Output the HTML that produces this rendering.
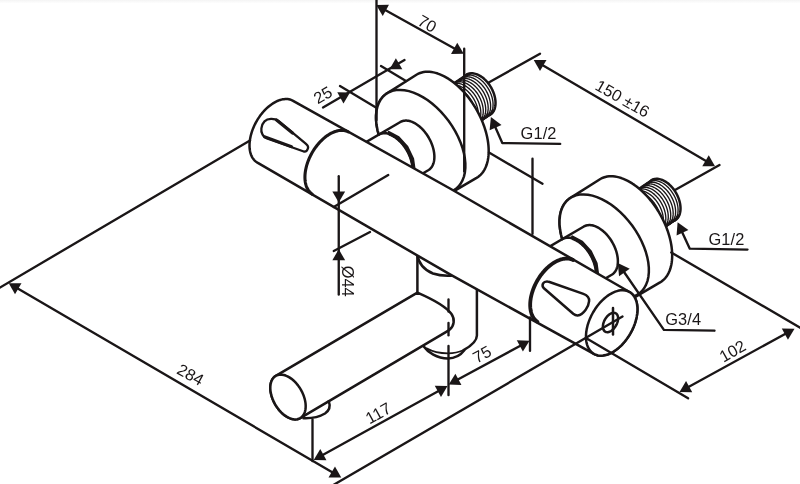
<!DOCTYPE html>
<html><head><meta charset="utf-8"><title>Dimensions</title>
<style>html,body{margin:0;padding:0;background:#fff;}svg{display:block;will-change:transform;}</style></head>
<body>
<svg width="800" height="484" viewBox="0 0 800 484" font-family="'Liberation Sans', sans-serif" fill="#1a1617">
<defs><linearGradient id="tg" x1="0" y1="0" x2="0" y2="1"><stop offset="0" stop-color="#f4f4f4"/><stop offset="1" stop-color="#ffffff"/></linearGradient></defs>
<rect x="0" y="0" width="800" height="3.5" fill="url(#tg)"/>
<path d="M466.55 74.62 L467.24 74.26 L467.95 73.96 L468.70 73.71 L469.47 73.52 L470.26 73.39 L471.08 73.32 L471.92 73.31 L472.77 73.36 L473.64 73.46 L474.52 73.62 L475.41 73.85 L476.31 74.13 L477.21 74.46 L478.12 74.85 L479.03 75.30 L479.93 75.80 L480.83 76.35 L481.72 76.95 L482.60 77.60 L483.48 78.30 L484.33 79.05 L485.17 79.83 L485.99 80.66 L486.79 81.53 L487.57 82.43 L488.31 83.37 L489.04 84.33 L489.73 85.33 L490.39 86.35 L491.02 87.40 L491.61 88.47 L492.16 89.55 L492.68 90.65 L493.16 91.76 L493.60 92.87 L493.99 94.00 L494.34 95.12 L494.65 96.25 L494.91 97.37 L495.12 98.48 L495.29 99.58 L495.42 100.67 L495.49 101.75 L495.52 102.80 L495.50 103.84 L495.43 104.84 L495.32 105.82 L495.16 106.78 L494.95 107.69 L494.70 108.57 L494.40 109.42 L494.06 110.22 L493.67 110.99 L493.24 111.70 L492.77 112.38 L492.26 113.00 L491.71 113.57 L491.13 114.09 L490.50 114.56 L489.85 114.98 L464.25 132.12 L440.95 91.76 Z" fill="#fff" stroke="none" stroke-width="0" stroke-linecap="round" stroke-linejoin="round" />
<path d="M466.55 74.62 L467.24 74.26 L467.95 73.96 L468.70 73.71 L469.47 73.52 L470.26 73.39 L471.08 73.32 L471.92 73.31 L472.77 73.36 L473.64 73.46 L474.52 73.62 L475.41 73.85 L476.31 74.13 L477.21 74.46 L478.12 74.85 L479.03 75.30 L479.93 75.80 L480.83 76.35 L481.72 76.95 L482.60 77.60 L483.48 78.30 L484.33 79.05 L485.17 79.83 L485.99 80.66 L486.79 81.53 L487.57 82.43 L488.31 83.37 L489.04 84.33 L489.73 85.33 L490.39 86.35 L491.02 87.40 L491.61 88.47 L492.16 89.55 L492.68 90.65 L493.16 91.76 L493.60 92.87 L493.99 94.00 L494.34 95.12 L494.65 96.25 L494.91 97.37 L495.12 98.48 L495.29 99.58 L495.42 100.67 L495.49 101.75 L495.52 102.80 L495.50 103.84 L495.43 104.84 L495.32 105.82 L495.16 106.78 L494.95 107.69 L494.70 108.57 L494.40 109.42 L494.06 110.22 L493.67 110.99 L493.24 111.70 L492.77 112.38 L492.26 113.00 L491.71 113.57 L491.13 114.09 L490.50 114.56 L489.85 114.98 " fill="none" stroke="#1a1617" stroke-width="2.5" stroke-linecap="round" stroke-linejoin="round" />
<path d="M494.50 109.14 L494.46 109.27 L494.41 109.40 L494.36 109.53 L494.30 109.66 L494.25 109.78 L494.20 109.91 L494.14 110.03 L494.09 110.15 L494.03 110.28 L493.97 110.40 L493.92 110.52 L493.86 110.64 L493.79 110.75 L493.73 110.87 L493.67 110.99 L493.61 111.10 L493.54 111.21 L493.47 111.33 L493.41 111.44 L493.34 111.55 L493.27 111.66 L493.20 111.77 L493.13 111.87 L493.06 111.98 L492.98 112.08 L492.91 112.19 L492.84 112.29 L492.76 112.39 L492.68 112.49 L492.60 112.59 L492.53 112.69 L492.45 112.78 L492.37 112.88 L492.28 112.97 L492.20 113.07 L492.12 113.16 L492.03 113.25 L491.95 113.34 L491.86 113.42 L491.77 113.51 L491.69 113.60 L491.60 113.68 L491.51 113.76 L491.42 113.85 L491.33 113.93 L491.23 114.01 L491.14 114.08 L491.05 114.16 L490.95 114.24 L490.85 114.31 L490.76 114.38 L490.66 114.45 L490.56 114.52 L490.46 114.59 L490.36 114.66 L490.26 114.73 L490.16 114.79 L490.06 114.86 L489.95 114.92 L489.85 114.98 " fill="none" stroke="#1a1617" stroke-width="1.7" stroke-linecap="round" stroke-linejoin="round" />
<path d="M466.55 74.62 L466.62 74.58 L466.70 74.54 L466.78 74.50 L466.85 74.45 L466.93 74.41 L467.00 74.38 L467.08 74.34 L467.16 74.30 L467.24 74.26 L467.31 74.23 L467.39 74.19 L467.47 74.15 L467.55 74.12 L467.63 74.09 L467.71 74.05 L467.79 74.02 L467.87 73.99 L467.95 73.96 L468.03 73.93 L468.12 73.90 L468.20 73.87 L468.28 73.84 L468.36 73.81 L468.45 73.79 L468.53 73.76 L468.61 73.74 L468.70 73.71 L468.78 73.69 L468.87 73.67 L468.95 73.64 L469.04 73.62 L469.12 73.60 L469.21 73.58 L469.30 73.56 L469.38 73.54 L469.47 73.52 L469.56 73.51 L469.64 73.49 L469.73 73.47 L469.82 73.46 L469.91 73.44 L470.00 73.43 L470.09 73.42 L470.17 73.41 L470.26 73.39 L470.35 73.38 L470.44 73.37 L470.53 73.36 L470.62 73.35 L470.72 73.35 L470.81 73.34 L470.90 73.33 L470.99 73.33 L471.08 73.32 L471.17 73.32 L471.27 73.31 L471.36 73.31 L471.45 73.31 L471.54 73.31 L471.64 73.31 " fill="none" stroke="#1a1617" stroke-width="1.6" stroke-linecap="round" stroke-linejoin="round" />
<path d="M464.10 76.30 L464.79 75.94 L465.50 75.64 L466.25 75.39 L467.02 75.20 L467.81 75.07 L468.63 75.00 L469.47 74.99 L470.32 75.04 L471.19 75.14 L472.07 75.31 L472.96 75.53 L473.86 75.81 L474.76 76.14 L475.67 76.53 L476.58 76.98 L477.48 77.48 L478.38 78.03 L479.27 78.63 L480.15 79.28 L481.03 79.98 L481.88 80.73 L482.72 81.51 L483.54 82.34 L484.34 83.21 L485.12 84.11 L485.86 85.05 L486.59 86.01 L487.28 87.01 L487.94 88.03 L488.57 89.08 L489.16 90.15 L489.71 91.23 L490.23 92.33 L490.71 93.44 L491.15 94.55 L491.54 95.68 L491.89 96.80 L492.20 97.93 L492.46 99.05 L492.68 100.16 L492.84 101.26 L492.97 102.35 L493.04 103.43 L493.07 104.48 L493.05 105.52 L492.98 106.52 L492.87 107.50 L492.71 108.46 L492.50 109.37 L492.25 110.25 L491.95 111.10 L491.61 111.90 L491.22 112.67 L490.79 113.38 L490.32 114.06 L489.81 114.68 L489.26 115.25 L488.68 115.77 L488.05 116.24 L487.40 116.66 " fill="none" stroke="#1a1617" stroke-width="1.35" stroke-linecap="round" stroke-linejoin="round" />
<path d="M492.05 110.82 L492.01 110.95 L491.96 111.08 L491.91 111.21 L491.85 111.34 L491.80 111.46 L491.75 111.59 L491.69 111.71 L491.64 111.83 L491.58 111.96 L491.52 112.08 L491.47 112.20 L491.41 112.32 L491.34 112.43 L491.28 112.55 L491.22 112.67 L491.16 112.78 L491.09 112.89 L491.02 113.01 L490.96 113.12 L490.89 113.23 L490.82 113.34 L490.75 113.45 L490.68 113.55 L490.61 113.66 L490.53 113.76 L490.46 113.87 L490.39 113.97 L490.31 114.07 L490.23 114.17 L490.15 114.27 L490.08 114.37 L490.00 114.46 L489.92 114.56 L489.83 114.65 L489.75 114.75 L489.67 114.84 L489.58 114.93 L489.50 115.02 L489.41 115.10 L489.32 115.19 L489.24 115.28 L489.15 115.36 L489.06 115.44 L488.97 115.53 L488.88 115.61 L488.78 115.69 L488.69 115.76 L488.60 115.84 L488.50 115.92 L488.40 115.99 L488.31 116.06 L488.21 116.13 L488.11 116.20 L488.01 116.27 L487.91 116.34 L487.81 116.41 L487.71 116.47 L487.61 116.54 L487.50 116.60 L487.40 116.66 " fill="none" stroke="#1a1617" stroke-width="1.7" stroke-linecap="round" stroke-linejoin="round" />
<path d="M464.10 76.30 L464.17 76.26 L464.25 76.22 L464.33 76.18 L464.40 76.13 L464.48 76.09 L464.55 76.06 L464.63 76.02 L464.71 75.98 L464.79 75.94 L464.86 75.91 L464.94 75.87 L465.02 75.83 L465.10 75.80 L465.18 75.77 L465.26 75.73 L465.34 75.70 L465.42 75.67 L465.50 75.64 L465.58 75.61 L465.67 75.58 L465.75 75.55 L465.83 75.52 L465.91 75.49 L466.00 75.47 L466.08 75.44 L466.16 75.42 L466.25 75.39 L466.33 75.37 L466.42 75.35 L466.50 75.32 L466.59 75.30 L466.67 75.28 L466.76 75.26 L466.85 75.24 L466.93 75.22 L467.02 75.20 L467.11 75.19 L467.19 75.17 L467.28 75.15 L467.37 75.14 L467.46 75.12 L467.55 75.11 L467.64 75.10 L467.72 75.09 L467.81 75.07 L467.90 75.06 L467.99 75.05 L468.08 75.04 L468.17 75.03 L468.27 75.03 L468.36 75.02 L468.45 75.01 L468.54 75.01 L468.63 75.00 L468.72 75.00 L468.82 74.99 L468.91 74.99 L469.00 74.99 L469.09 74.99 L469.19 74.99 " fill="none" stroke="#1a1617" stroke-width="1.6" stroke-linecap="round" stroke-linejoin="round" />
<path d="M461.65 77.98 L462.34 77.62 L463.05 77.32 L463.80 77.07 L464.57 76.88 L465.36 76.75 L466.18 76.68 L467.02 76.67 L467.87 76.72 L468.74 76.82 L469.62 76.98 L470.51 77.21 L471.41 77.49 L472.31 77.82 L473.22 78.21 L474.13 78.66 L475.03 79.16 L475.93 79.71 L476.82 80.31 L477.70 80.96 L478.58 81.66 L479.43 82.41 L480.27 83.19 L481.09 84.02 L481.89 84.89 L482.67 85.79 L483.41 86.73 L484.14 87.69 L484.83 88.69 L485.49 89.71 L486.12 90.76 L486.71 91.83 L487.26 92.91 L487.78 94.01 L488.26 95.12 L488.70 96.23 L489.09 97.36 L489.44 98.48 L489.75 99.61 L490.01 100.73 L490.23 101.84 L490.39 102.94 L490.52 104.03 L490.59 105.11 L490.62 106.16 L490.60 107.20 L490.53 108.20 L490.42 109.18 L490.26 110.14 L490.05 111.05 L489.80 111.93 L489.50 112.78 L489.16 113.58 L488.77 114.35 L488.34 115.06 L487.87 115.74 L487.36 116.36 L486.81 116.93 L486.23 117.45 L485.60 117.92 L484.95 118.34 " fill="none" stroke="#1a1617" stroke-width="1.35" stroke-linecap="round" stroke-linejoin="round" />
<path d="M489.60 112.50 L489.56 112.63 L489.51 112.76 L489.46 112.89 L489.40 113.02 L489.35 113.14 L489.30 113.27 L489.24 113.39 L489.19 113.51 L489.13 113.64 L489.07 113.76 L489.02 113.88 L488.96 114.00 L488.89 114.11 L488.83 114.23 L488.77 114.35 L488.71 114.46 L488.64 114.57 L488.57 114.69 L488.51 114.80 L488.44 114.91 L488.37 115.02 L488.30 115.13 L488.23 115.23 L488.16 115.34 L488.08 115.44 L488.01 115.55 L487.94 115.65 L487.86 115.75 L487.78 115.85 L487.70 115.95 L487.63 116.05 L487.55 116.14 L487.47 116.24 L487.38 116.33 L487.30 116.43 L487.22 116.52 L487.13 116.61 L487.05 116.70 L486.96 116.78 L486.87 116.87 L486.79 116.96 L486.70 117.04 L486.61 117.12 L486.52 117.21 L486.43 117.29 L486.33 117.37 L486.24 117.44 L486.15 117.52 L486.05 117.60 L485.95 117.67 L485.86 117.74 L485.76 117.81 L485.66 117.88 L485.56 117.95 L485.46 118.02 L485.36 118.09 L485.26 118.15 L485.16 118.22 L485.05 118.28 L484.95 118.34 " fill="none" stroke="#1a1617" stroke-width="1.7" stroke-linecap="round" stroke-linejoin="round" />
<path d="M461.65 77.98 L461.72 77.94 L461.80 77.90 L461.88 77.86 L461.95 77.81 L462.03 77.77 L462.10 77.74 L462.18 77.70 L462.26 77.66 L462.34 77.62 L462.41 77.59 L462.49 77.55 L462.57 77.51 L462.65 77.48 L462.73 77.45 L462.81 77.41 L462.89 77.38 L462.97 77.35 L463.05 77.32 L463.13 77.29 L463.22 77.26 L463.30 77.23 L463.38 77.20 L463.46 77.17 L463.55 77.15 L463.63 77.12 L463.71 77.10 L463.80 77.07 L463.88 77.05 L463.97 77.03 L464.05 77.00 L464.14 76.98 L464.22 76.96 L464.31 76.94 L464.40 76.92 L464.48 76.90 L464.57 76.88 L464.66 76.87 L464.74 76.85 L464.83 76.83 L464.92 76.82 L465.01 76.80 L465.10 76.79 L465.19 76.78 L465.27 76.77 L465.36 76.75 L465.45 76.74 L465.54 76.73 L465.63 76.72 L465.72 76.71 L465.82 76.71 L465.91 76.70 L466.00 76.69 L466.09 76.69 L466.18 76.68 L466.27 76.68 L466.37 76.67 L466.46 76.67 L466.55 76.67 L466.64 76.67 L466.74 76.67 " fill="none" stroke="#1a1617" stroke-width="1.6" stroke-linecap="round" stroke-linejoin="round" />
<path d="M459.20 79.66 L459.89 79.30 L460.60 79.00 L461.35 78.75 L462.12 78.56 L462.91 78.43 L463.73 78.36 L464.57 78.35 L465.42 78.40 L466.29 78.50 L467.17 78.67 L468.06 78.89 L468.96 79.17 L469.86 79.50 L470.77 79.89 L471.68 80.34 L472.58 80.84 L473.48 81.39 L474.37 81.99 L475.25 82.64 L476.12 83.34 L476.98 84.09 L477.82 84.87 L478.64 85.70 L479.44 86.57 L480.22 87.47 L480.96 88.41 L481.69 89.37 L482.38 90.37 L483.04 91.39 L483.67 92.44 L484.26 93.51 L484.81 94.59 L485.33 95.69 L485.81 96.80 L486.25 97.91 L486.64 99.04 L486.99 100.16 L487.30 101.29 L487.56 102.41 L487.77 103.52 L487.94 104.62 L488.07 105.71 L488.14 106.79 L488.17 107.84 L488.15 108.88 L488.08 109.88 L487.97 110.86 L487.81 111.82 L487.60 112.73 L487.35 113.61 L487.05 114.46 L486.71 115.26 L486.32 116.03 L485.89 116.74 L485.42 117.42 L484.91 118.04 L484.36 118.61 L483.78 119.13 L483.15 119.60 L482.50 120.02 " fill="none" stroke="#1a1617" stroke-width="1.35" stroke-linecap="round" stroke-linejoin="round" />
<path d="M487.15 114.18 L487.11 114.31 L487.06 114.44 L487.01 114.57 L486.95 114.70 L486.90 114.82 L486.85 114.95 L486.79 115.07 L486.74 115.19 L486.68 115.32 L486.62 115.44 L486.57 115.56 L486.51 115.68 L486.44 115.79 L486.38 115.91 L486.32 116.03 L486.26 116.14 L486.19 116.25 L486.12 116.37 L486.06 116.48 L485.99 116.59 L485.92 116.70 L485.85 116.81 L485.78 116.91 L485.71 117.02 L485.63 117.12 L485.56 117.23 L485.49 117.33 L485.41 117.43 L485.33 117.53 L485.25 117.63 L485.18 117.73 L485.10 117.82 L485.02 117.92 L484.93 118.01 L484.85 118.11 L484.77 118.20 L484.68 118.29 L484.60 118.38 L484.51 118.46 L484.42 118.55 L484.34 118.64 L484.25 118.72 L484.16 118.80 L484.07 118.89 L483.98 118.97 L483.88 119.05 L483.79 119.12 L483.70 119.20 L483.60 119.28 L483.50 119.35 L483.41 119.42 L483.31 119.49 L483.21 119.56 L483.11 119.63 L483.01 119.70 L482.91 119.77 L482.81 119.83 L482.71 119.90 L482.60 119.96 L482.50 120.02 " fill="none" stroke="#1a1617" stroke-width="1.7" stroke-linecap="round" stroke-linejoin="round" />
<path d="M459.20 79.66 L459.27 79.62 L459.35 79.58 L459.43 79.54 L459.50 79.49 L459.58 79.45 L459.65 79.42 L459.73 79.38 L459.81 79.34 L459.89 79.30 L459.96 79.27 L460.04 79.23 L460.12 79.19 L460.20 79.16 L460.28 79.13 L460.36 79.09 L460.44 79.06 L460.52 79.03 L460.60 79.00 L460.68 78.97 L460.77 78.94 L460.85 78.91 L460.93 78.88 L461.01 78.85 L461.10 78.83 L461.18 78.80 L461.26 78.78 L461.35 78.75 L461.43 78.73 L461.52 78.71 L461.60 78.68 L461.69 78.66 L461.77 78.64 L461.86 78.62 L461.95 78.60 L462.03 78.58 L462.12 78.56 L462.21 78.55 L462.29 78.53 L462.38 78.51 L462.47 78.50 L462.56 78.48 L462.65 78.47 L462.74 78.46 L462.82 78.45 L462.91 78.43 L463.00 78.42 L463.09 78.41 L463.18 78.40 L463.27 78.39 L463.37 78.39 L463.46 78.38 L463.55 78.37 L463.64 78.37 L463.73 78.36 L463.82 78.36 L463.92 78.35 L464.01 78.35 L464.10 78.35 L464.19 78.35 L464.29 78.35 " fill="none" stroke="#1a1617" stroke-width="1.6" stroke-linecap="round" stroke-linejoin="round" />
<path d="M456.75 81.34 L457.44 80.98 L458.15 80.68 L458.90 80.43 L459.67 80.24 L460.46 80.11 L461.28 80.04 L462.12 80.03 L462.97 80.08 L463.84 80.18 L464.72 80.34 L465.61 80.57 L466.51 80.85 L467.41 81.18 L468.32 81.57 L469.23 82.02 L470.13 82.52 L471.03 83.07 L471.92 83.67 L472.80 84.32 L473.68 85.02 L474.53 85.77 L475.37 86.55 L476.19 87.38 L476.99 88.25 L477.77 89.15 L478.51 90.09 L479.24 91.05 L479.93 92.05 L480.59 93.07 L481.22 94.12 L481.81 95.19 L482.36 96.27 L482.88 97.37 L483.36 98.48 L483.80 99.59 L484.19 100.72 L484.54 101.84 L484.85 102.97 L485.11 104.09 L485.32 105.20 L485.49 106.30 L485.62 107.39 L485.69 108.47 L485.72 109.52 L485.70 110.56 L485.63 111.56 L485.52 112.54 L485.36 113.50 L485.15 114.41 L484.90 115.29 L484.60 116.14 L484.26 116.94 L483.87 117.71 L483.44 118.42 L482.97 119.10 L482.46 119.72 L481.91 120.29 L481.33 120.81 L480.70 121.28 L480.05 121.70 " fill="none" stroke="#1a1617" stroke-width="1.35" stroke-linecap="round" stroke-linejoin="round" />
<path d="M484.70 115.86 L484.66 115.99 L484.61 116.12 L484.56 116.25 L484.50 116.38 L484.45 116.50 L484.40 116.63 L484.34 116.75 L484.29 116.87 L484.23 117.00 L484.17 117.12 L484.12 117.24 L484.06 117.36 L483.99 117.47 L483.93 117.59 L483.87 117.71 L483.81 117.82 L483.74 117.93 L483.67 118.05 L483.61 118.16 L483.54 118.27 L483.47 118.38 L483.40 118.49 L483.33 118.59 L483.26 118.70 L483.18 118.80 L483.11 118.91 L483.04 119.01 L482.96 119.11 L482.88 119.21 L482.80 119.31 L482.73 119.41 L482.65 119.50 L482.57 119.60 L482.48 119.69 L482.40 119.79 L482.32 119.88 L482.23 119.97 L482.15 120.06 L482.06 120.14 L481.97 120.23 L481.89 120.32 L481.80 120.40 L481.71 120.48 L481.62 120.57 L481.53 120.65 L481.43 120.73 L481.34 120.80 L481.25 120.88 L481.15 120.96 L481.05 121.03 L480.96 121.10 L480.86 121.17 L480.76 121.24 L480.66 121.31 L480.56 121.38 L480.46 121.45 L480.36 121.51 L480.26 121.58 L480.15 121.64 L480.05 121.70 " fill="none" stroke="#1a1617" stroke-width="1.7" stroke-linecap="round" stroke-linejoin="round" />
<path d="M456.75 81.34 L456.82 81.30 L456.90 81.26 L456.98 81.22 L457.05 81.17 L457.13 81.13 L457.20 81.10 L457.28 81.06 L457.36 81.02 L457.44 80.98 L457.51 80.95 L457.59 80.91 L457.67 80.87 L457.75 80.84 L457.83 80.81 L457.91 80.77 L457.99 80.74 L458.07 80.71 L458.15 80.68 L458.23 80.65 L458.32 80.62 L458.40 80.59 L458.48 80.56 L458.56 80.53 L458.65 80.51 L458.73 80.48 L458.81 80.46 L458.90 80.43 L458.98 80.41 L459.07 80.39 L459.15 80.36 L459.24 80.34 L459.32 80.32 L459.41 80.30 L459.50 80.28 L459.58 80.26 L459.67 80.24 L459.76 80.23 L459.84 80.21 L459.93 80.19 L460.02 80.18 L460.11 80.16 L460.20 80.15 L460.29 80.14 L460.37 80.13 L460.46 80.11 L460.55 80.10 L460.64 80.09 L460.73 80.08 L460.82 80.07 L460.92 80.07 L461.01 80.06 L461.10 80.05 L461.19 80.05 L461.28 80.04 L461.37 80.04 L461.47 80.03 L461.56 80.03 L461.65 80.03 L461.74 80.03 L461.84 80.03 " fill="none" stroke="#1a1617" stroke-width="1.6" stroke-linecap="round" stroke-linejoin="round" />
<path d="M454.30 83.02 L454.99 82.66 L455.70 82.36 L456.45 82.11 L457.22 81.92 L458.01 81.79 L458.83 81.72 L459.67 81.71 L460.52 81.76 L461.39 81.86 L462.27 82.03 L463.16 82.25 L464.06 82.53 L464.96 82.86 L465.87 83.25 L466.78 83.70 L467.68 84.20 L468.58 84.75 L469.47 85.35 L470.35 86.00 L471.23 86.70 L472.08 87.45 L472.92 88.23 L473.74 89.06 L474.54 89.93 L475.32 90.83 L476.06 91.77 L476.79 92.73 L477.48 93.73 L478.14 94.75 L478.77 95.80 L479.36 96.87 L479.91 97.95 L480.43 99.05 L480.91 100.16 L481.35 101.27 L481.74 102.40 L482.09 103.52 L482.40 104.65 L482.66 105.77 L482.88 106.88 L483.04 107.98 L483.17 109.07 L483.24 110.15 L483.27 111.20 L483.25 112.24 L483.18 113.24 L483.07 114.22 L482.91 115.18 L482.70 116.09 L482.45 116.97 L482.15 117.82 L481.81 118.62 L481.42 119.39 L480.99 120.10 L480.52 120.78 L480.01 121.40 L479.46 121.97 L478.88 122.49 L478.25 122.96 L477.60 123.38 " fill="none" stroke="#1a1617" stroke-width="1.35" stroke-linecap="round" stroke-linejoin="round" />
<path d="M482.25 117.54 L482.21 117.67 L482.16 117.80 L482.11 117.93 L482.05 118.06 L482.00 118.18 L481.95 118.31 L481.89 118.43 L481.84 118.55 L481.78 118.68 L481.72 118.80 L481.67 118.92 L481.61 119.04 L481.54 119.15 L481.48 119.27 L481.42 119.39 L481.36 119.50 L481.29 119.61 L481.22 119.73 L481.16 119.84 L481.09 119.95 L481.02 120.06 L480.95 120.17 L480.88 120.27 L480.81 120.38 L480.73 120.48 L480.66 120.59 L480.59 120.69 L480.51 120.79 L480.43 120.89 L480.35 120.99 L480.28 121.09 L480.20 121.18 L480.12 121.28 L480.03 121.37 L479.95 121.47 L479.87 121.56 L479.78 121.65 L479.70 121.74 L479.61 121.82 L479.52 121.91 L479.44 122.00 L479.35 122.08 L479.26 122.16 L479.17 122.25 L479.08 122.33 L478.98 122.41 L478.89 122.48 L478.80 122.56 L478.70 122.64 L478.60 122.71 L478.51 122.78 L478.41 122.85 L478.31 122.92 L478.21 122.99 L478.11 123.06 L478.01 123.13 L477.91 123.19 L477.81 123.26 L477.70 123.32 L477.60 123.38 " fill="none" stroke="#1a1617" stroke-width="1.7" stroke-linecap="round" stroke-linejoin="round" />
<path d="M454.30 83.02 L454.37 82.98 L454.45 82.94 L454.53 82.90 L454.60 82.85 L454.68 82.81 L454.75 82.78 L454.83 82.74 L454.91 82.70 L454.99 82.66 L455.06 82.63 L455.14 82.59 L455.22 82.55 L455.30 82.52 L455.38 82.49 L455.46 82.45 L455.54 82.42 L455.62 82.39 L455.70 82.36 L455.78 82.33 L455.87 82.30 L455.95 82.27 L456.03 82.24 L456.11 82.21 L456.20 82.19 L456.28 82.16 L456.36 82.14 L456.45 82.11 L456.53 82.09 L456.62 82.07 L456.70 82.04 L456.79 82.02 L456.87 82.00 L456.96 81.98 L457.05 81.96 L457.13 81.94 L457.22 81.92 L457.31 81.91 L457.39 81.89 L457.48 81.87 L457.57 81.86 L457.66 81.84 L457.75 81.83 L457.84 81.82 L457.92 81.81 L458.01 81.79 L458.10 81.78 L458.19 81.77 L458.28 81.76 L458.37 81.75 L458.47 81.75 L458.56 81.74 L458.65 81.73 L458.74 81.73 L458.83 81.72 L458.92 81.72 L459.02 81.71 L459.11 81.71 L459.20 81.71 L459.29 81.71 L459.39 81.71 " fill="none" stroke="#1a1617" stroke-width="1.6" stroke-linecap="round" stroke-linejoin="round" />
<path d="M451.85 84.70 L452.54 84.34 L453.25 84.04 L454.00 83.79 L454.77 83.60 L455.56 83.47 L456.38 83.40 L457.22 83.39 L458.07 83.44 L458.94 83.54 L459.82 83.70 L460.71 83.93 L461.61 84.21 L462.51 84.54 L463.42 84.93 L464.33 85.38 L465.23 85.88 L466.13 86.43 L467.02 87.03 L467.90 87.68 L468.78 88.38 L469.63 89.13 L470.47 89.91 L471.29 90.74 L472.09 91.61 L472.87 92.51 L473.61 93.45 L474.34 94.41 L475.03 95.41 L475.69 96.43 L476.32 97.48 L476.91 98.55 L477.46 99.63 L477.98 100.73 L478.46 101.84 L478.90 102.95 L479.29 104.08 L479.64 105.20 L479.95 106.33 L480.21 107.45 L480.43 108.56 L480.59 109.66 L480.72 110.75 L480.79 111.83 L480.82 112.88 L480.80 113.92 L480.73 114.92 L480.62 115.90 L480.46 116.86 L480.25 117.77 L480.00 118.65 L479.70 119.50 L479.36 120.30 L478.97 121.07 L478.54 121.78 L478.07 122.46 L477.56 123.08 L477.01 123.65 L476.43 124.17 L475.80 124.64 L475.15 125.06 " fill="none" stroke="#1a1617" stroke-width="1.35" stroke-linecap="round" stroke-linejoin="round" />
<path d="M479.80 119.22 L479.76 119.35 L479.71 119.48 L479.66 119.61 L479.60 119.74 L479.55 119.86 L479.50 119.99 L479.44 120.11 L479.39 120.23 L479.33 120.36 L479.27 120.48 L479.22 120.60 L479.16 120.72 L479.09 120.83 L479.03 120.95 L478.97 121.07 L478.91 121.18 L478.84 121.29 L478.77 121.41 L478.71 121.52 L478.64 121.63 L478.57 121.74 L478.50 121.85 L478.43 121.95 L478.36 122.06 L478.28 122.16 L478.21 122.27 L478.14 122.37 L478.06 122.47 L477.98 122.57 L477.90 122.67 L477.83 122.77 L477.75 122.86 L477.67 122.96 L477.58 123.05 L477.50 123.15 L477.42 123.24 L477.33 123.33 L477.25 123.42 L477.16 123.50 L477.07 123.59 L476.99 123.68 L476.90 123.76 L476.81 123.84 L476.72 123.93 L476.63 124.01 L476.53 124.09 L476.44 124.16 L476.35 124.24 L476.25 124.32 L476.15 124.39 L476.06 124.46 L475.96 124.53 L475.86 124.60 L475.76 124.67 L475.66 124.74 L475.56 124.81 L475.46 124.87 L475.36 124.94 L475.25 125.00 L475.15 125.06 " fill="none" stroke="#1a1617" stroke-width="1.7" stroke-linecap="round" stroke-linejoin="round" />
<path d="M451.85 84.70 L451.92 84.66 L452.00 84.62 L452.08 84.58 L452.15 84.53 L452.23 84.49 L452.30 84.46 L452.38 84.42 L452.46 84.38 L452.54 84.34 L452.61 84.31 L452.69 84.27 L452.77 84.23 L452.85 84.20 L452.93 84.17 L453.01 84.13 L453.09 84.10 L453.17 84.07 L453.25 84.04 L453.33 84.01 L453.42 83.98 L453.50 83.95 L453.58 83.92 L453.66 83.89 L453.75 83.87 L453.83 83.84 L453.91 83.82 L454.00 83.79 L454.08 83.77 L454.17 83.75 L454.25 83.72 L454.34 83.70 L454.42 83.68 L454.51 83.66 L454.60 83.64 L454.68 83.62 L454.77 83.60 L454.86 83.59 L454.94 83.57 L455.03 83.55 L455.12 83.54 L455.21 83.52 L455.30 83.51 L455.39 83.50 L455.47 83.49 L455.56 83.47 L455.65 83.46 L455.74 83.45 L455.83 83.44 L455.92 83.43 L456.02 83.43 L456.11 83.42 L456.20 83.41 L456.29 83.41 L456.38 83.40 L456.47 83.40 L456.57 83.39 L456.66 83.39 L456.75 83.39 L456.84 83.39 L456.94 83.39 " fill="none" stroke="#1a1617" stroke-width="1.6" stroke-linecap="round" stroke-linejoin="round" />
<path d="M449.40 86.38 L450.09 86.02 L450.80 85.72 L451.55 85.47 L452.32 85.28 L453.11 85.15 L453.93 85.08 L454.77 85.07 L455.62 85.12 L456.49 85.22 L457.37 85.39 L458.26 85.61 L459.16 85.89 L460.06 86.22 L460.97 86.61 L461.88 87.06 L462.78 87.56 L463.68 88.11 L464.57 88.71 L465.45 89.36 L466.33 90.06 L467.18 90.81 L468.02 91.59 L468.84 92.42 L469.64 93.29 L470.42 94.19 L471.16 95.13 L471.89 96.09 L472.58 97.09 L473.24 98.11 L473.87 99.16 L474.46 100.23 L475.01 101.31 L475.53 102.41 L476.01 103.52 L476.45 104.63 L476.84 105.76 L477.19 106.88 L477.50 108.01 L477.76 109.13 L477.98 110.24 L478.14 111.34 L478.27 112.43 L478.34 113.51 L478.37 114.56 L478.35 115.60 L478.28 116.60 L478.17 117.58 L478.01 118.54 L477.80 119.45 L477.55 120.33 L477.25 121.18 L476.91 121.98 L476.52 122.75 L476.09 123.46 L475.62 124.14 L475.11 124.76 L474.56 125.33 L473.98 125.85 L473.35 126.32 L472.70 126.74 " fill="none" stroke="#1a1617" stroke-width="1.35" stroke-linecap="round" stroke-linejoin="round" />
<path d="M477.35 120.90 L477.31 121.03 L477.26 121.16 L477.21 121.29 L477.15 121.42 L477.10 121.54 L477.05 121.67 L476.99 121.79 L476.94 121.91 L476.88 122.04 L476.82 122.16 L476.77 122.28 L476.71 122.40 L476.64 122.51 L476.58 122.63 L476.52 122.75 L476.46 122.86 L476.39 122.97 L476.32 123.09 L476.26 123.20 L476.19 123.31 L476.12 123.42 L476.05 123.53 L475.98 123.63 L475.91 123.74 L475.83 123.84 L475.76 123.95 L475.69 124.05 L475.61 124.15 L475.53 124.25 L475.45 124.35 L475.38 124.45 L475.30 124.54 L475.22 124.64 L475.13 124.73 L475.05 124.83 L474.97 124.92 L474.88 125.01 L474.80 125.10 L474.71 125.18 L474.62 125.27 L474.54 125.36 L474.45 125.44 L474.36 125.52 L474.27 125.61 L474.18 125.69 L474.08 125.77 L473.99 125.84 L473.90 125.92 L473.80 126.00 L473.70 126.07 L473.61 126.14 L473.51 126.21 L473.41 126.28 L473.31 126.35 L473.21 126.42 L473.11 126.49 L473.01 126.55 L472.91 126.62 L472.80 126.68 L472.70 126.74 " fill="none" stroke="#1a1617" stroke-width="1.7" stroke-linecap="round" stroke-linejoin="round" />
<path d="M449.40 86.38 L449.47 86.34 L449.55 86.30 L449.63 86.26 L449.70 86.21 L449.78 86.17 L449.85 86.14 L449.93 86.10 L450.01 86.06 L450.09 86.02 L450.16 85.99 L450.24 85.95 L450.32 85.91 L450.40 85.88 L450.48 85.85 L450.56 85.81 L450.64 85.78 L450.72 85.75 L450.80 85.72 L450.88 85.69 L450.97 85.66 L451.05 85.63 L451.13 85.60 L451.21 85.57 L451.30 85.55 L451.38 85.52 L451.46 85.50 L451.55 85.47 L451.63 85.45 L451.72 85.43 L451.80 85.40 L451.89 85.38 L451.97 85.36 L452.06 85.34 L452.15 85.32 L452.23 85.30 L452.32 85.28 L452.41 85.27 L452.49 85.25 L452.58 85.23 L452.67 85.22 L452.76 85.20 L452.85 85.19 L452.94 85.18 L453.02 85.17 L453.11 85.15 L453.20 85.14 L453.29 85.13 L453.38 85.12 L453.47 85.11 L453.57 85.11 L453.66 85.10 L453.75 85.09 L453.84 85.09 L453.93 85.08 L454.02 85.08 L454.12 85.07 L454.21 85.07 L454.30 85.07 L454.39 85.07 L454.49 85.07 " fill="none" stroke="#1a1617" stroke-width="1.6" stroke-linecap="round" stroke-linejoin="round" />
<path d="M446.95 88.06 L447.64 87.70 L448.35 87.40 L449.10 87.15 L449.87 86.96 L450.66 86.83 L451.48 86.76 L452.32 86.75 L453.17 86.80 L454.04 86.90 L454.92 87.06 L455.81 87.29 L456.71 87.57 L457.61 87.90 L458.52 88.29 L459.43 88.74 L460.33 89.24 L461.23 89.79 L462.12 90.39 L463.00 91.04 L463.88 91.74 L464.73 92.49 L465.57 93.27 L466.39 94.10 L467.19 94.97 L467.97 95.87 L468.71 96.81 L469.44 97.77 L470.13 98.77 L470.79 99.79 L471.42 100.84 L472.01 101.91 L472.56 102.99 L473.08 104.09 L473.56 105.20 L474.00 106.31 L474.39 107.44 L474.74 108.56 L475.05 109.69 L475.31 110.81 L475.52 111.92 L475.69 113.02 L475.82 114.11 L475.89 115.19 L475.92 116.24 L475.90 117.28 L475.83 118.28 L475.72 119.26 L475.56 120.22 L475.35 121.13 L475.10 122.01 L474.80 122.86 L474.46 123.66 L474.07 124.43 L473.64 125.14 L473.17 125.82 L472.66 126.44 L472.11 127.01 L471.53 127.53 L470.90 128.00 L470.25 128.42 " fill="none" stroke="#1a1617" stroke-width="1.35" stroke-linecap="round" stroke-linejoin="round" />
<path d="M474.90 122.58 L474.86 122.71 L474.81 122.84 L474.76 122.97 L474.70 123.10 L474.65 123.22 L474.60 123.35 L474.54 123.47 L474.49 123.59 L474.43 123.72 L474.37 123.84 L474.32 123.96 L474.26 124.08 L474.19 124.19 L474.13 124.31 L474.07 124.43 L474.01 124.54 L473.94 124.65 L473.87 124.77 L473.81 124.88 L473.74 124.99 L473.67 125.10 L473.60 125.21 L473.53 125.31 L473.46 125.42 L473.38 125.52 L473.31 125.63 L473.24 125.73 L473.16 125.83 L473.08 125.93 L473.00 126.03 L472.93 126.13 L472.85 126.22 L472.77 126.32 L472.68 126.41 L472.60 126.51 L472.52 126.60 L472.43 126.69 L472.35 126.78 L472.26 126.86 L472.17 126.95 L472.09 127.04 L472.00 127.12 L471.91 127.20 L471.82 127.29 L471.73 127.37 L471.63 127.45 L471.54 127.52 L471.45 127.60 L471.35 127.68 L471.25 127.75 L471.16 127.82 L471.06 127.89 L470.96 127.96 L470.86 128.03 L470.76 128.10 L470.66 128.17 L470.56 128.23 L470.46 128.30 L470.35 128.36 L470.25 128.42 " fill="none" stroke="#1a1617" stroke-width="1.7" stroke-linecap="round" stroke-linejoin="round" />
<path d="M446.95 88.06 L447.02 88.02 L447.10 87.98 L447.18 87.94 L447.25 87.89 L447.33 87.85 L447.40 87.82 L447.48 87.78 L447.56 87.74 L447.64 87.70 L447.71 87.67 L447.79 87.63 L447.87 87.59 L447.95 87.56 L448.03 87.53 L448.11 87.49 L448.19 87.46 L448.27 87.43 L448.35 87.40 L448.43 87.37 L448.52 87.34 L448.60 87.31 L448.68 87.28 L448.76 87.25 L448.85 87.23 L448.93 87.20 L449.01 87.18 L449.10 87.15 L449.18 87.13 L449.27 87.11 L449.35 87.08 L449.44 87.06 L449.52 87.04 L449.61 87.02 L449.70 87.00 L449.78 86.98 L449.87 86.96 L449.96 86.95 L450.04 86.93 L450.13 86.91 L450.22 86.90 L450.31 86.88 L450.40 86.87 L450.49 86.86 L450.57 86.85 L450.66 86.83 L450.75 86.82 L450.84 86.81 L450.93 86.80 L451.02 86.79 L451.12 86.79 L451.21 86.78 L451.30 86.77 L451.39 86.77 L451.48 86.76 L451.57 86.76 L451.67 86.75 L451.76 86.75 L451.85 86.75 L451.94 86.75 L452.04 86.75 " fill="none" stroke="#1a1617" stroke-width="1.6" stroke-linecap="round" stroke-linejoin="round" />
<path d="M466.55 74.62 L440.95 91.76 " fill="none" stroke="#1a1617" stroke-width="2.0" stroke-linecap="round" stroke-linejoin="round" />
<path d="M489.85 114.98 L464.25 132.12 " fill="none" stroke="#1a1617" stroke-width="2.0" stroke-linecap="round" stroke-linejoin="round" />
<path d="M651.55 180.12 L652.24 179.76 L652.95 179.46 L653.70 179.21 L654.47 179.02 L655.26 178.89 L656.08 178.82 L656.92 178.81 L657.77 178.86 L658.64 178.96 L659.52 179.13 L660.41 179.35 L661.31 179.63 L662.21 179.96 L663.12 180.35 L664.03 180.80 L664.93 181.30 L665.83 181.85 L666.72 182.45 L667.60 183.10 L668.48 183.80 L669.33 184.55 L670.17 185.33 L670.99 186.16 L671.79 187.03 L672.57 187.93 L673.31 188.87 L674.04 189.83 L674.73 190.83 L675.39 191.85 L676.02 192.90 L676.61 193.97 L677.16 195.05 L677.68 196.15 L678.16 197.26 L678.60 198.37 L678.99 199.50 L679.34 200.62 L679.65 201.75 L679.91 202.87 L680.13 203.98 L680.29 205.08 L680.42 206.17 L680.49 207.25 L680.52 208.30 L680.50 209.34 L680.43 210.34 L680.32 211.32 L680.16 212.28 L679.95 213.19 L679.70 214.07 L679.40 214.92 L679.06 215.72 L678.67 216.49 L678.24 217.20 L677.77 217.88 L677.26 218.50 L676.71 219.07 L676.13 219.59 L675.50 220.06 L674.85 220.48 L649.25 237.62 L625.95 197.26 Z" fill="#fff" stroke="none" stroke-width="0" stroke-linecap="round" stroke-linejoin="round" />
<path d="M651.55 180.12 L652.24 179.76 L652.95 179.46 L653.70 179.21 L654.47 179.02 L655.26 178.89 L656.08 178.82 L656.92 178.81 L657.77 178.86 L658.64 178.96 L659.52 179.13 L660.41 179.35 L661.31 179.63 L662.21 179.96 L663.12 180.35 L664.03 180.80 L664.93 181.30 L665.83 181.85 L666.72 182.45 L667.60 183.10 L668.48 183.80 L669.33 184.55 L670.17 185.33 L670.99 186.16 L671.79 187.03 L672.57 187.93 L673.31 188.87 L674.04 189.83 L674.73 190.83 L675.39 191.85 L676.02 192.90 L676.61 193.97 L677.16 195.05 L677.68 196.15 L678.16 197.26 L678.60 198.37 L678.99 199.50 L679.34 200.62 L679.65 201.75 L679.91 202.87 L680.13 203.98 L680.29 205.08 L680.42 206.17 L680.49 207.25 L680.52 208.30 L680.50 209.34 L680.43 210.34 L680.32 211.32 L680.16 212.28 L679.95 213.19 L679.70 214.07 L679.40 214.92 L679.06 215.72 L678.67 216.49 L678.24 217.20 L677.77 217.88 L677.26 218.50 L676.71 219.07 L676.13 219.59 L675.50 220.06 L674.85 220.48 " fill="none" stroke="#1a1617" stroke-width="2.5" stroke-linecap="round" stroke-linejoin="round" />
<path d="M679.50 214.64 L679.46 214.77 L679.41 214.90 L679.36 215.03 L679.30 215.16 L679.25 215.28 L679.20 215.41 L679.14 215.53 L679.09 215.65 L679.03 215.78 L678.97 215.90 L678.92 216.02 L678.86 216.14 L678.79 216.25 L678.73 216.37 L678.67 216.49 L678.61 216.60 L678.54 216.71 L678.47 216.83 L678.41 216.94 L678.34 217.05 L678.27 217.16 L678.20 217.27 L678.13 217.37 L678.06 217.48 L677.98 217.58 L677.91 217.69 L677.84 217.79 L677.76 217.89 L677.68 217.99 L677.60 218.09 L677.53 218.19 L677.45 218.28 L677.37 218.38 L677.28 218.47 L677.20 218.57 L677.12 218.66 L677.03 218.75 L676.95 218.84 L676.86 218.92 L676.77 219.01 L676.69 219.10 L676.60 219.18 L676.51 219.26 L676.42 219.35 L676.33 219.43 L676.23 219.51 L676.14 219.58 L676.05 219.66 L675.95 219.74 L675.85 219.81 L675.76 219.88 L675.66 219.95 L675.56 220.02 L675.46 220.09 L675.36 220.16 L675.26 220.23 L675.16 220.29 L675.06 220.36 L674.95 220.42 L674.85 220.48 " fill="none" stroke="#1a1617" stroke-width="1.7" stroke-linecap="round" stroke-linejoin="round" />
<path d="M651.55 180.12 L651.62 180.08 L651.70 180.04 L651.78 180.00 L651.85 179.95 L651.93 179.91 L652.00 179.88 L652.08 179.84 L652.16 179.80 L652.24 179.76 L652.31 179.73 L652.39 179.69 L652.47 179.65 L652.55 179.62 L652.63 179.59 L652.71 179.55 L652.79 179.52 L652.87 179.49 L652.95 179.46 L653.03 179.43 L653.12 179.40 L653.20 179.37 L653.28 179.34 L653.36 179.31 L653.45 179.29 L653.53 179.26 L653.61 179.24 L653.70 179.21 L653.78 179.19 L653.87 179.17 L653.95 179.14 L654.04 179.12 L654.12 179.10 L654.21 179.08 L654.30 179.06 L654.38 179.04 L654.47 179.02 L654.56 179.01 L654.64 178.99 L654.73 178.97 L654.82 178.96 L654.91 178.94 L655.00 178.93 L655.09 178.92 L655.17 178.91 L655.26 178.89 L655.35 178.88 L655.44 178.87 L655.53 178.86 L655.62 178.85 L655.72 178.85 L655.81 178.84 L655.90 178.83 L655.99 178.83 L656.08 178.82 L656.17 178.82 L656.27 178.81 L656.36 178.81 L656.45 178.81 L656.54 178.81 L656.64 178.81 " fill="none" stroke="#1a1617" stroke-width="1.6" stroke-linecap="round" stroke-linejoin="round" />
<path d="M649.10 181.80 L649.79 181.44 L650.50 181.14 L651.25 180.89 L652.02 180.70 L652.81 180.57 L653.63 180.50 L654.47 180.49 L655.32 180.54 L656.19 180.64 L657.07 180.81 L657.96 181.03 L658.86 181.31 L659.76 181.64 L660.67 182.03 L661.58 182.48 L662.48 182.98 L663.38 183.53 L664.27 184.13 L665.15 184.78 L666.02 185.48 L666.88 186.23 L667.72 187.01 L668.54 187.84 L669.34 188.71 L670.12 189.61 L670.86 190.55 L671.59 191.51 L672.28 192.51 L672.94 193.53 L673.57 194.58 L674.16 195.65 L674.71 196.73 L675.23 197.83 L675.71 198.94 L676.15 200.05 L676.54 201.18 L676.89 202.30 L677.20 203.43 L677.46 204.55 L677.68 205.66 L677.84 206.76 L677.97 207.85 L678.04 208.93 L678.07 209.98 L678.05 211.02 L677.98 212.02 L677.87 213.00 L677.71 213.96 L677.50 214.87 L677.25 215.75 L676.95 216.60 L676.61 217.40 L676.22 218.17 L675.79 218.88 L675.32 219.56 L674.81 220.18 L674.26 220.75 L673.68 221.27 L673.05 221.74 L672.40 222.16 " fill="none" stroke="#1a1617" stroke-width="1.35" stroke-linecap="round" stroke-linejoin="round" />
<path d="M677.05 216.32 L677.01 216.45 L676.96 216.58 L676.91 216.71 L676.85 216.84 L676.80 216.96 L676.75 217.09 L676.69 217.21 L676.64 217.33 L676.58 217.46 L676.52 217.58 L676.47 217.70 L676.41 217.82 L676.34 217.93 L676.28 218.05 L676.22 218.17 L676.16 218.28 L676.09 218.39 L676.02 218.51 L675.96 218.62 L675.89 218.73 L675.82 218.84 L675.75 218.95 L675.68 219.05 L675.61 219.16 L675.53 219.26 L675.46 219.37 L675.39 219.47 L675.31 219.57 L675.23 219.67 L675.15 219.77 L675.08 219.87 L675.00 219.96 L674.92 220.06 L674.83 220.15 L674.75 220.25 L674.67 220.34 L674.58 220.43 L674.50 220.52 L674.41 220.60 L674.32 220.69 L674.24 220.78 L674.15 220.86 L674.06 220.94 L673.97 221.03 L673.88 221.11 L673.78 221.19 L673.69 221.26 L673.60 221.34 L673.50 221.42 L673.40 221.49 L673.31 221.56 L673.21 221.63 L673.11 221.70 L673.01 221.77 L672.91 221.84 L672.81 221.91 L672.71 221.97 L672.61 222.04 L672.50 222.10 L672.40 222.16 " fill="none" stroke="#1a1617" stroke-width="1.7" stroke-linecap="round" stroke-linejoin="round" />
<path d="M649.10 181.80 L649.17 181.76 L649.25 181.72 L649.33 181.68 L649.40 181.63 L649.48 181.59 L649.55 181.56 L649.63 181.52 L649.71 181.48 L649.79 181.44 L649.86 181.41 L649.94 181.37 L650.02 181.33 L650.10 181.30 L650.18 181.27 L650.26 181.23 L650.34 181.20 L650.42 181.17 L650.50 181.14 L650.58 181.11 L650.67 181.08 L650.75 181.05 L650.83 181.02 L650.91 180.99 L651.00 180.97 L651.08 180.94 L651.16 180.92 L651.25 180.89 L651.33 180.87 L651.42 180.85 L651.50 180.82 L651.59 180.80 L651.67 180.78 L651.76 180.76 L651.85 180.74 L651.93 180.72 L652.02 180.70 L652.11 180.69 L652.19 180.67 L652.28 180.65 L652.37 180.64 L652.46 180.62 L652.55 180.61 L652.64 180.60 L652.72 180.59 L652.81 180.57 L652.90 180.56 L652.99 180.55 L653.08 180.54 L653.17 180.53 L653.27 180.53 L653.36 180.52 L653.45 180.51 L653.54 180.51 L653.63 180.50 L653.72 180.50 L653.82 180.49 L653.91 180.49 L654.00 180.49 L654.09 180.49 L654.19 180.49 " fill="none" stroke="#1a1617" stroke-width="1.6" stroke-linecap="round" stroke-linejoin="round" />
<path d="M646.65 183.48 L647.34 183.12 L648.05 182.82 L648.80 182.57 L649.57 182.38 L650.36 182.25 L651.18 182.18 L652.02 182.17 L652.87 182.22 L653.74 182.32 L654.62 182.49 L655.51 182.71 L656.41 182.99 L657.31 183.32 L658.22 183.71 L659.13 184.16 L660.03 184.66 L660.93 185.21 L661.82 185.81 L662.70 186.46 L663.58 187.16 L664.43 187.91 L665.27 188.69 L666.09 189.52 L666.89 190.39 L667.67 191.29 L668.41 192.23 L669.14 193.19 L669.83 194.19 L670.49 195.21 L671.12 196.26 L671.71 197.33 L672.26 198.41 L672.78 199.51 L673.26 200.62 L673.70 201.73 L674.09 202.86 L674.44 203.98 L674.75 205.11 L675.01 206.23 L675.23 207.34 L675.39 208.44 L675.52 209.53 L675.59 210.61 L675.62 211.66 L675.60 212.70 L675.53 213.70 L675.42 214.68 L675.26 215.64 L675.05 216.55 L674.80 217.44 L674.50 218.28 L674.16 219.08 L673.77 219.85 L673.34 220.56 L672.87 221.24 L672.36 221.86 L671.81 222.43 L671.23 222.95 L670.60 223.42 L669.95 223.84 " fill="none" stroke="#1a1617" stroke-width="1.35" stroke-linecap="round" stroke-linejoin="round" />
<path d="M674.60 218.00 L674.56 218.13 L674.51 218.26 L674.46 218.39 L674.40 218.52 L674.35 218.64 L674.30 218.77 L674.24 218.89 L674.19 219.01 L674.13 219.14 L674.07 219.26 L674.02 219.38 L673.96 219.50 L673.89 219.61 L673.83 219.73 L673.77 219.85 L673.71 219.96 L673.64 220.07 L673.57 220.19 L673.51 220.30 L673.44 220.41 L673.37 220.52 L673.30 220.63 L673.23 220.73 L673.16 220.84 L673.08 220.94 L673.01 221.05 L672.94 221.15 L672.86 221.25 L672.78 221.35 L672.70 221.45 L672.63 221.55 L672.55 221.64 L672.47 221.74 L672.38 221.83 L672.30 221.93 L672.22 222.02 L672.13 222.11 L672.05 222.20 L671.96 222.28 L671.87 222.37 L671.79 222.46 L671.70 222.54 L671.61 222.62 L671.52 222.71 L671.43 222.79 L671.33 222.87 L671.24 222.94 L671.15 223.02 L671.05 223.10 L670.95 223.17 L670.86 223.24 L670.76 223.31 L670.66 223.38 L670.56 223.45 L670.46 223.52 L670.36 223.59 L670.26 223.65 L670.16 223.72 L670.05 223.78 L669.95 223.84 " fill="none" stroke="#1a1617" stroke-width="1.7" stroke-linecap="round" stroke-linejoin="round" />
<path d="M646.65 183.48 L646.72 183.44 L646.80 183.40 L646.88 183.36 L646.95 183.31 L647.03 183.27 L647.10 183.24 L647.18 183.20 L647.26 183.16 L647.34 183.12 L647.41 183.09 L647.49 183.05 L647.57 183.01 L647.65 182.98 L647.73 182.95 L647.81 182.91 L647.89 182.88 L647.97 182.85 L648.05 182.82 L648.13 182.79 L648.22 182.76 L648.30 182.73 L648.38 182.70 L648.46 182.67 L648.55 182.65 L648.63 182.62 L648.71 182.60 L648.80 182.57 L648.88 182.55 L648.97 182.53 L649.05 182.50 L649.14 182.48 L649.22 182.46 L649.31 182.44 L649.40 182.42 L649.48 182.40 L649.57 182.38 L649.66 182.37 L649.74 182.35 L649.83 182.33 L649.92 182.32 L650.01 182.30 L650.10 182.29 L650.19 182.28 L650.27 182.27 L650.36 182.25 L650.45 182.24 L650.54 182.23 L650.63 182.22 L650.72 182.21 L650.82 182.21 L650.91 182.20 L651.00 182.19 L651.09 182.19 L651.18 182.18 L651.27 182.18 L651.37 182.17 L651.46 182.17 L651.55 182.17 L651.64 182.17 L651.74 182.17 " fill="none" stroke="#1a1617" stroke-width="1.6" stroke-linecap="round" stroke-linejoin="round" />
<path d="M644.20 185.16 L644.89 184.80 L645.60 184.50 L646.35 184.25 L647.12 184.06 L647.91 183.93 L648.73 183.86 L649.57 183.85 L650.42 183.90 L651.29 184.00 L652.17 184.17 L653.06 184.39 L653.96 184.67 L654.86 185.00 L655.77 185.39 L656.68 185.84 L657.58 186.34 L658.48 186.89 L659.37 187.49 L660.25 188.14 L661.12 188.84 L661.98 189.59 L662.82 190.37 L663.64 191.20 L664.44 192.07 L665.22 192.97 L665.96 193.91 L666.69 194.87 L667.38 195.87 L668.04 196.89 L668.67 197.94 L669.26 199.01 L669.81 200.09 L670.33 201.19 L670.81 202.30 L671.25 203.41 L671.64 204.54 L671.99 205.66 L672.30 206.79 L672.56 207.91 L672.78 209.02 L672.94 210.12 L673.07 211.21 L673.14 212.29 L673.17 213.34 L673.15 214.38 L673.08 215.38 L672.97 216.36 L672.81 217.32 L672.60 218.23 L672.35 219.11 L672.05 219.96 L671.71 220.76 L671.32 221.53 L670.89 222.24 L670.42 222.92 L669.91 223.54 L669.36 224.11 L668.78 224.63 L668.15 225.10 L667.50 225.52 " fill="none" stroke="#1a1617" stroke-width="1.35" stroke-linecap="round" stroke-linejoin="round" />
<path d="M672.15 219.68 L672.11 219.81 L672.06 219.94 L672.01 220.07 L671.95 220.20 L671.90 220.32 L671.85 220.45 L671.79 220.57 L671.74 220.69 L671.68 220.82 L671.62 220.94 L671.57 221.06 L671.51 221.18 L671.44 221.29 L671.38 221.41 L671.32 221.53 L671.26 221.64 L671.19 221.75 L671.12 221.87 L671.06 221.98 L670.99 222.09 L670.92 222.20 L670.85 222.31 L670.78 222.41 L670.71 222.52 L670.63 222.62 L670.56 222.73 L670.49 222.83 L670.41 222.93 L670.33 223.03 L670.25 223.13 L670.18 223.23 L670.10 223.32 L670.02 223.42 L669.93 223.51 L669.85 223.61 L669.77 223.70 L669.68 223.79 L669.60 223.88 L669.51 223.96 L669.42 224.05 L669.34 224.14 L669.25 224.22 L669.16 224.30 L669.07 224.39 L668.98 224.47 L668.88 224.55 L668.79 224.62 L668.70 224.70 L668.60 224.78 L668.50 224.85 L668.41 224.92 L668.31 224.99 L668.21 225.06 L668.11 225.13 L668.01 225.20 L667.91 225.27 L667.81 225.33 L667.71 225.40 L667.60 225.46 L667.50 225.52 " fill="none" stroke="#1a1617" stroke-width="1.7" stroke-linecap="round" stroke-linejoin="round" />
<path d="M644.20 185.16 L644.27 185.12 L644.35 185.08 L644.43 185.04 L644.50 184.99 L644.58 184.95 L644.65 184.92 L644.73 184.88 L644.81 184.84 L644.89 184.80 L644.96 184.77 L645.04 184.73 L645.12 184.69 L645.20 184.66 L645.28 184.63 L645.36 184.59 L645.44 184.56 L645.52 184.53 L645.60 184.50 L645.68 184.47 L645.77 184.44 L645.85 184.41 L645.93 184.38 L646.01 184.35 L646.10 184.33 L646.18 184.30 L646.26 184.28 L646.35 184.25 L646.43 184.23 L646.52 184.21 L646.60 184.18 L646.69 184.16 L646.77 184.14 L646.86 184.12 L646.95 184.10 L647.03 184.08 L647.12 184.06 L647.21 184.05 L647.29 184.03 L647.38 184.01 L647.47 184.00 L647.56 183.98 L647.65 183.97 L647.74 183.96 L647.82 183.95 L647.91 183.93 L648.00 183.92 L648.09 183.91 L648.18 183.90 L648.27 183.89 L648.37 183.89 L648.46 183.88 L648.55 183.87 L648.64 183.87 L648.73 183.86 L648.82 183.86 L648.92 183.85 L649.01 183.85 L649.10 183.85 L649.19 183.85 L649.29 183.85 " fill="none" stroke="#1a1617" stroke-width="1.6" stroke-linecap="round" stroke-linejoin="round" />
<path d="M641.75 186.84 L642.44 186.48 L643.15 186.18 L643.90 185.93 L644.67 185.74 L645.46 185.61 L646.28 185.54 L647.12 185.53 L647.97 185.58 L648.84 185.68 L649.72 185.85 L650.61 186.07 L651.51 186.35 L652.41 186.68 L653.32 187.07 L654.23 187.52 L655.13 188.02 L656.03 188.57 L656.92 189.17 L657.80 189.82 L658.68 190.52 L659.53 191.27 L660.37 192.05 L661.19 192.88 L661.99 193.75 L662.77 194.65 L663.51 195.59 L664.24 196.55 L664.93 197.55 L665.59 198.57 L666.22 199.62 L666.81 200.69 L667.36 201.77 L667.88 202.87 L668.36 203.98 L668.80 205.09 L669.19 206.22 L669.54 207.34 L669.85 208.47 L670.11 209.59 L670.33 210.70 L670.49 211.80 L670.62 212.89 L670.69 213.97 L670.72 215.02 L670.70 216.06 L670.63 217.06 L670.52 218.04 L670.36 219.00 L670.15 219.91 L669.90 220.79 L669.60 221.64 L669.26 222.44 L668.87 223.21 L668.44 223.92 L667.97 224.60 L667.46 225.22 L666.91 225.79 L666.33 226.31 L665.70 226.78 L665.05 227.20 " fill="none" stroke="#1a1617" stroke-width="1.35" stroke-linecap="round" stroke-linejoin="round" />
<path d="M669.70 221.36 L669.66 221.49 L669.61 221.62 L669.56 221.75 L669.50 221.88 L669.45 222.00 L669.40 222.13 L669.34 222.25 L669.29 222.37 L669.23 222.50 L669.17 222.62 L669.12 222.74 L669.06 222.86 L668.99 222.97 L668.93 223.09 L668.87 223.21 L668.81 223.32 L668.74 223.43 L668.67 223.55 L668.61 223.66 L668.54 223.77 L668.47 223.88 L668.40 223.99 L668.33 224.09 L668.26 224.20 L668.18 224.30 L668.11 224.41 L668.04 224.51 L667.96 224.61 L667.88 224.71 L667.80 224.81 L667.73 224.91 L667.65 225.00 L667.57 225.10 L667.48 225.19 L667.40 225.29 L667.32 225.38 L667.23 225.47 L667.15 225.56 L667.06 225.64 L666.97 225.73 L666.89 225.82 L666.80 225.90 L666.71 225.98 L666.62 226.07 L666.53 226.15 L666.43 226.23 L666.34 226.30 L666.25 226.38 L666.15 226.46 L666.05 226.53 L665.96 226.60 L665.86 226.67 L665.76 226.74 L665.66 226.81 L665.56 226.88 L665.46 226.95 L665.36 227.01 L665.26 227.08 L665.15 227.14 L665.05 227.20 " fill="none" stroke="#1a1617" stroke-width="1.7" stroke-linecap="round" stroke-linejoin="round" />
<path d="M641.75 186.84 L641.82 186.80 L641.90 186.76 L641.98 186.72 L642.05 186.67 L642.13 186.63 L642.20 186.60 L642.28 186.56 L642.36 186.52 L642.44 186.48 L642.51 186.45 L642.59 186.41 L642.67 186.37 L642.75 186.34 L642.83 186.31 L642.91 186.27 L642.99 186.24 L643.07 186.21 L643.15 186.18 L643.23 186.15 L643.32 186.12 L643.40 186.09 L643.48 186.06 L643.56 186.03 L643.65 186.01 L643.73 185.98 L643.81 185.96 L643.90 185.93 L643.98 185.91 L644.07 185.89 L644.15 185.86 L644.24 185.84 L644.32 185.82 L644.41 185.80 L644.50 185.78 L644.58 185.76 L644.67 185.74 L644.76 185.73 L644.84 185.71 L644.93 185.69 L645.02 185.68 L645.11 185.66 L645.20 185.65 L645.29 185.64 L645.37 185.63 L645.46 185.61 L645.55 185.60 L645.64 185.59 L645.73 185.58 L645.82 185.57 L645.92 185.57 L646.01 185.56 L646.10 185.55 L646.19 185.55 L646.28 185.54 L646.37 185.54 L646.47 185.53 L646.56 185.53 L646.65 185.53 L646.74 185.53 L646.84 185.53 " fill="none" stroke="#1a1617" stroke-width="1.6" stroke-linecap="round" stroke-linejoin="round" />
<path d="M639.30 188.52 L639.99 188.16 L640.70 187.86 L641.45 187.61 L642.22 187.42 L643.01 187.29 L643.83 187.22 L644.67 187.21 L645.52 187.26 L646.39 187.36 L647.27 187.53 L648.16 187.75 L649.06 188.03 L649.96 188.36 L650.87 188.75 L651.78 189.20 L652.68 189.70 L653.58 190.25 L654.47 190.85 L655.35 191.50 L656.23 192.20 L657.08 192.95 L657.92 193.73 L658.74 194.56 L659.54 195.43 L660.32 196.33 L661.06 197.27 L661.79 198.23 L662.48 199.23 L663.14 200.25 L663.77 201.30 L664.36 202.37 L664.91 203.45 L665.43 204.55 L665.91 205.66 L666.35 206.77 L666.74 207.90 L667.09 209.02 L667.40 210.15 L667.66 211.27 L667.88 212.38 L668.04 213.48 L668.17 214.57 L668.24 215.65 L668.27 216.70 L668.25 217.74 L668.18 218.74 L668.07 219.72 L667.91 220.68 L667.70 221.59 L667.45 222.47 L667.15 223.32 L666.81 224.12 L666.42 224.89 L665.99 225.60 L665.52 226.28 L665.01 226.90 L664.46 227.47 L663.88 227.99 L663.25 228.46 L662.60 228.88 " fill="none" stroke="#1a1617" stroke-width="1.35" stroke-linecap="round" stroke-linejoin="round" />
<path d="M667.25 223.04 L667.21 223.17 L667.16 223.30 L667.11 223.43 L667.05 223.56 L667.00 223.68 L666.95 223.81 L666.89 223.93 L666.84 224.05 L666.78 224.18 L666.72 224.30 L666.67 224.42 L666.61 224.54 L666.54 224.65 L666.48 224.77 L666.42 224.89 L666.36 225.00 L666.29 225.11 L666.22 225.23 L666.16 225.34 L666.09 225.45 L666.02 225.56 L665.95 225.67 L665.88 225.77 L665.81 225.88 L665.73 225.98 L665.66 226.09 L665.59 226.19 L665.51 226.29 L665.43 226.39 L665.35 226.49 L665.28 226.59 L665.20 226.68 L665.12 226.78 L665.03 226.87 L664.95 226.97 L664.87 227.06 L664.78 227.15 L664.70 227.24 L664.61 227.32 L664.52 227.41 L664.44 227.50 L664.35 227.58 L664.26 227.66 L664.17 227.75 L664.08 227.83 L663.98 227.91 L663.89 227.98 L663.80 228.06 L663.70 228.14 L663.60 228.21 L663.51 228.28 L663.41 228.35 L663.31 228.42 L663.21 228.49 L663.11 228.56 L663.01 228.63 L662.91 228.69 L662.81 228.76 L662.70 228.82 L662.60 228.88 " fill="none" stroke="#1a1617" stroke-width="1.7" stroke-linecap="round" stroke-linejoin="round" />
<path d="M639.30 188.52 L639.37 188.48 L639.45 188.44 L639.53 188.40 L639.60 188.35 L639.68 188.31 L639.75 188.28 L639.83 188.24 L639.91 188.20 L639.99 188.16 L640.06 188.13 L640.14 188.09 L640.22 188.05 L640.30 188.02 L640.38 187.99 L640.46 187.95 L640.54 187.92 L640.62 187.89 L640.70 187.86 L640.78 187.83 L640.87 187.80 L640.95 187.77 L641.03 187.74 L641.11 187.71 L641.20 187.69 L641.28 187.66 L641.36 187.64 L641.45 187.61 L641.53 187.59 L641.62 187.57 L641.70 187.54 L641.79 187.52 L641.87 187.50 L641.96 187.48 L642.05 187.46 L642.13 187.44 L642.22 187.42 L642.31 187.41 L642.39 187.39 L642.48 187.37 L642.57 187.36 L642.66 187.34 L642.75 187.33 L642.84 187.32 L642.92 187.31 L643.01 187.29 L643.10 187.28 L643.19 187.27 L643.28 187.26 L643.37 187.25 L643.47 187.25 L643.56 187.24 L643.65 187.23 L643.74 187.23 L643.83 187.22 L643.92 187.22 L644.02 187.21 L644.11 187.21 L644.20 187.21 L644.29 187.21 L644.39 187.21 " fill="none" stroke="#1a1617" stroke-width="1.6" stroke-linecap="round" stroke-linejoin="round" />
<path d="M636.85 190.20 L637.54 189.84 L638.25 189.54 L639.00 189.29 L639.77 189.10 L640.56 188.97 L641.38 188.90 L642.22 188.89 L643.07 188.94 L643.94 189.04 L644.82 189.21 L645.71 189.43 L646.61 189.71 L647.51 190.04 L648.42 190.43 L649.33 190.88 L650.23 191.38 L651.13 191.93 L652.02 192.53 L652.90 193.18 L653.77 193.88 L654.63 194.63 L655.47 195.41 L656.29 196.24 L657.09 197.11 L657.87 198.01 L658.61 198.95 L659.34 199.91 L660.03 200.91 L660.69 201.93 L661.32 202.98 L661.91 204.05 L662.46 205.13 L662.98 206.23 L663.46 207.34 L663.90 208.45 L664.29 209.58 L664.64 210.70 L664.95 211.83 L665.21 212.95 L665.43 214.06 L665.59 215.16 L665.72 216.25 L665.79 217.33 L665.82 218.38 L665.80 219.42 L665.73 220.42 L665.62 221.40 L665.46 222.36 L665.25 223.27 L665.00 224.16 L664.70 225.00 L664.36 225.80 L663.97 226.57 L663.54 227.28 L663.07 227.96 L662.56 228.58 L662.01 229.15 L661.43 229.67 L660.80 230.14 L660.15 230.56 " fill="none" stroke="#1a1617" stroke-width="1.35" stroke-linecap="round" stroke-linejoin="round" />
<path d="M664.80 224.72 L664.76 224.85 L664.71 224.98 L664.66 225.11 L664.60 225.24 L664.55 225.36 L664.50 225.49 L664.44 225.61 L664.39 225.73 L664.33 225.86 L664.27 225.98 L664.22 226.10 L664.16 226.22 L664.09 226.33 L664.03 226.45 L663.97 226.57 L663.91 226.68 L663.84 226.79 L663.77 226.91 L663.71 227.02 L663.64 227.13 L663.57 227.24 L663.50 227.35 L663.43 227.45 L663.36 227.56 L663.28 227.66 L663.21 227.77 L663.14 227.87 L663.06 227.97 L662.98 228.07 L662.90 228.17 L662.83 228.27 L662.75 228.36 L662.67 228.46 L662.58 228.55 L662.50 228.65 L662.42 228.74 L662.33 228.83 L662.25 228.92 L662.16 229.00 L662.07 229.09 L661.99 229.18 L661.90 229.26 L661.81 229.34 L661.72 229.43 L661.63 229.51 L661.53 229.59 L661.44 229.66 L661.35 229.74 L661.25 229.82 L661.15 229.89 L661.06 229.96 L660.96 230.03 L660.86 230.10 L660.76 230.17 L660.66 230.24 L660.56 230.31 L660.46 230.37 L660.36 230.44 L660.25 230.50 L660.15 230.56 " fill="none" stroke="#1a1617" stroke-width="1.7" stroke-linecap="round" stroke-linejoin="round" />
<path d="M636.85 190.20 L636.92 190.16 L637.00 190.12 L637.08 190.08 L637.15 190.03 L637.23 189.99 L637.30 189.96 L637.38 189.92 L637.46 189.88 L637.54 189.84 L637.61 189.81 L637.69 189.77 L637.77 189.73 L637.85 189.70 L637.93 189.67 L638.01 189.63 L638.09 189.60 L638.17 189.57 L638.25 189.54 L638.33 189.51 L638.42 189.48 L638.50 189.45 L638.58 189.42 L638.66 189.39 L638.75 189.37 L638.83 189.34 L638.91 189.32 L639.00 189.29 L639.08 189.27 L639.17 189.25 L639.25 189.22 L639.34 189.20 L639.42 189.18 L639.51 189.16 L639.60 189.14 L639.68 189.12 L639.77 189.10 L639.86 189.09 L639.94 189.07 L640.03 189.05 L640.12 189.04 L640.21 189.02 L640.30 189.01 L640.39 189.00 L640.47 188.99 L640.56 188.97 L640.65 188.96 L640.74 188.95 L640.83 188.94 L640.92 188.93 L641.02 188.93 L641.11 188.92 L641.20 188.91 L641.29 188.91 L641.38 188.90 L641.47 188.90 L641.57 188.89 L641.66 188.89 L641.75 188.89 L641.84 188.89 L641.94 188.89 " fill="none" stroke="#1a1617" stroke-width="1.6" stroke-linecap="round" stroke-linejoin="round" />
<path d="M634.40 191.88 L635.09 191.52 L635.80 191.22 L636.55 190.97 L637.32 190.78 L638.11 190.65 L638.93 190.58 L639.77 190.57 L640.62 190.62 L641.49 190.72 L642.37 190.89 L643.26 191.11 L644.16 191.39 L645.06 191.72 L645.97 192.11 L646.88 192.56 L647.78 193.06 L648.68 193.61 L649.57 194.21 L650.45 194.86 L651.33 195.56 L652.18 196.31 L653.02 197.09 L653.84 197.92 L654.64 198.79 L655.42 199.69 L656.16 200.63 L656.89 201.59 L657.58 202.59 L658.24 203.61 L658.87 204.66 L659.46 205.73 L660.01 206.81 L660.53 207.91 L661.01 209.02 L661.45 210.13 L661.84 211.26 L662.19 212.38 L662.50 213.51 L662.76 214.63 L662.98 215.74 L663.14 216.84 L663.27 217.93 L663.34 219.01 L663.37 220.06 L663.35 221.10 L663.28 222.10 L663.17 223.08 L663.01 224.04 L662.80 224.95 L662.55 225.83 L662.25 226.68 L661.91 227.48 L661.52 228.25 L661.09 228.96 L660.62 229.64 L660.11 230.26 L659.56 230.83 L658.98 231.35 L658.35 231.82 L657.70 232.24 " fill="none" stroke="#1a1617" stroke-width="1.35" stroke-linecap="round" stroke-linejoin="round" />
<path d="M662.35 226.40 L662.31 226.53 L662.26 226.66 L662.21 226.79 L662.15 226.92 L662.10 227.04 L662.05 227.17 L661.99 227.29 L661.94 227.41 L661.88 227.54 L661.82 227.66 L661.77 227.78 L661.71 227.90 L661.64 228.01 L661.58 228.13 L661.52 228.25 L661.46 228.36 L661.39 228.47 L661.32 228.59 L661.26 228.70 L661.19 228.81 L661.12 228.92 L661.05 229.03 L660.98 229.13 L660.91 229.24 L660.83 229.34 L660.76 229.45 L660.69 229.55 L660.61 229.65 L660.53 229.75 L660.45 229.85 L660.38 229.95 L660.30 230.04 L660.22 230.14 L660.13 230.23 L660.05 230.33 L659.97 230.42 L659.88 230.51 L659.80 230.60 L659.71 230.68 L659.62 230.77 L659.54 230.86 L659.45 230.94 L659.36 231.02 L659.27 231.11 L659.18 231.19 L659.08 231.27 L658.99 231.34 L658.90 231.42 L658.80 231.50 L658.70 231.57 L658.61 231.64 L658.51 231.71 L658.41 231.78 L658.31 231.85 L658.21 231.92 L658.11 231.99 L658.01 232.05 L657.91 232.12 L657.80 232.18 L657.70 232.24 " fill="none" stroke="#1a1617" stroke-width="1.7" stroke-linecap="round" stroke-linejoin="round" />
<path d="M634.40 191.88 L634.47 191.84 L634.55 191.80 L634.63 191.76 L634.70 191.71 L634.78 191.67 L634.85 191.64 L634.93 191.60 L635.01 191.56 L635.09 191.52 L635.16 191.49 L635.24 191.45 L635.32 191.41 L635.40 191.38 L635.48 191.35 L635.56 191.31 L635.64 191.28 L635.72 191.25 L635.80 191.22 L635.88 191.19 L635.97 191.16 L636.05 191.13 L636.13 191.10 L636.21 191.07 L636.30 191.05 L636.38 191.02 L636.46 191.00 L636.55 190.97 L636.63 190.95 L636.72 190.93 L636.80 190.90 L636.89 190.88 L636.97 190.86 L637.06 190.84 L637.15 190.82 L637.23 190.80 L637.32 190.78 L637.41 190.77 L637.49 190.75 L637.58 190.73 L637.67 190.72 L637.76 190.70 L637.85 190.69 L637.94 190.68 L638.02 190.67 L638.11 190.65 L638.20 190.64 L638.29 190.63 L638.38 190.62 L638.47 190.61 L638.57 190.61 L638.66 190.60 L638.75 190.59 L638.84 190.59 L638.93 190.58 L639.02 190.58 L639.12 190.57 L639.21 190.57 L639.30 190.57 L639.39 190.57 L639.49 190.57 " fill="none" stroke="#1a1617" stroke-width="1.6" stroke-linecap="round" stroke-linejoin="round" />
<path d="M631.95 193.56 L632.64 193.20 L633.35 192.90 L634.10 192.65 L634.87 192.46 L635.66 192.33 L636.48 192.26 L637.32 192.25 L638.17 192.30 L639.04 192.40 L639.92 192.57 L640.81 192.79 L641.71 193.07 L642.61 193.40 L643.52 193.79 L644.43 194.24 L645.33 194.74 L646.23 195.29 L647.12 195.89 L648.00 196.54 L648.88 197.24 L649.73 197.99 L650.57 198.77 L651.39 199.60 L652.19 200.47 L652.97 201.37 L653.71 202.31 L654.44 203.27 L655.13 204.27 L655.79 205.29 L656.42 206.34 L657.01 207.41 L657.56 208.49 L658.08 209.59 L658.56 210.70 L659.00 211.81 L659.39 212.94 L659.74 214.06 L660.05 215.19 L660.31 216.31 L660.53 217.42 L660.69 218.52 L660.82 219.61 L660.89 220.69 L660.92 221.74 L660.90 222.78 L660.83 223.78 L660.72 224.76 L660.56 225.72 L660.35 226.63 L660.10 227.51 L659.80 228.36 L659.46 229.16 L659.07 229.93 L658.64 230.64 L658.17 231.32 L657.66 231.94 L657.11 232.51 L656.53 233.03 L655.90 233.50 L655.25 233.92 " fill="none" stroke="#1a1617" stroke-width="1.35" stroke-linecap="round" stroke-linejoin="round" />
<path d="M659.90 228.08 L659.86 228.21 L659.81 228.34 L659.76 228.47 L659.70 228.60 L659.65 228.72 L659.60 228.85 L659.54 228.97 L659.49 229.09 L659.43 229.22 L659.37 229.34 L659.32 229.46 L659.26 229.58 L659.19 229.69 L659.13 229.81 L659.07 229.93 L659.01 230.04 L658.94 230.15 L658.87 230.27 L658.81 230.38 L658.74 230.49 L658.67 230.60 L658.60 230.71 L658.53 230.81 L658.46 230.92 L658.38 231.02 L658.31 231.13 L658.24 231.23 L658.16 231.33 L658.08 231.43 L658.00 231.53 L657.93 231.63 L657.85 231.72 L657.77 231.82 L657.68 231.91 L657.60 232.01 L657.52 232.10 L657.43 232.19 L657.35 232.28 L657.26 232.36 L657.17 232.45 L657.09 232.54 L657.00 232.62 L656.91 232.70 L656.82 232.79 L656.73 232.87 L656.63 232.95 L656.54 233.02 L656.45 233.10 L656.35 233.18 L656.25 233.25 L656.16 233.32 L656.06 233.39 L655.96 233.46 L655.86 233.53 L655.76 233.60 L655.66 233.67 L655.56 233.73 L655.46 233.80 L655.35 233.86 L655.25 233.92 " fill="none" stroke="#1a1617" stroke-width="1.7" stroke-linecap="round" stroke-linejoin="round" />
<path d="M631.95 193.56 L632.02 193.52 L632.10 193.48 L632.18 193.44 L632.25 193.39 L632.33 193.35 L632.40 193.32 L632.48 193.28 L632.56 193.24 L632.64 193.20 L632.71 193.17 L632.79 193.13 L632.87 193.09 L632.95 193.06 L633.03 193.03 L633.11 192.99 L633.19 192.96 L633.27 192.93 L633.35 192.90 L633.43 192.87 L633.52 192.84 L633.60 192.81 L633.68 192.78 L633.76 192.75 L633.85 192.73 L633.93 192.70 L634.01 192.68 L634.10 192.65 L634.18 192.63 L634.27 192.61 L634.35 192.58 L634.44 192.56 L634.52 192.54 L634.61 192.52 L634.70 192.50 L634.78 192.48 L634.87 192.46 L634.96 192.45 L635.04 192.43 L635.13 192.41 L635.22 192.40 L635.31 192.38 L635.40 192.37 L635.49 192.36 L635.57 192.35 L635.66 192.33 L635.75 192.32 L635.84 192.31 L635.93 192.30 L636.02 192.29 L636.12 192.29 L636.21 192.28 L636.30 192.27 L636.39 192.27 L636.48 192.26 L636.57 192.26 L636.67 192.25 L636.76 192.25 L636.85 192.25 L636.94 192.25 L637.04 192.25 " fill="none" stroke="#1a1617" stroke-width="1.6" stroke-linecap="round" stroke-linejoin="round" />
<path d="M651.55 180.12 L625.95 197.26 " fill="none" stroke="#1a1617" stroke-width="2.0" stroke-linecap="round" stroke-linejoin="round" />
<path d="M674.85 220.48 L649.25 237.62 " fill="none" stroke="#1a1617" stroke-width="2.0" stroke-linecap="round" stroke-linejoin="round" />
<path d="M416.85 74.50 L418.44 73.68 L420.10 73.00 L421.84 72.47 L423.64 72.08 L425.51 71.85 L427.44 71.76 L429.42 71.82 L431.44 72.03 L433.51 72.39 L435.61 72.90 L437.75 73.55 L439.91 74.35 L442.09 75.29 L444.28 76.37 L446.47 77.59 L448.67 78.93 L450.87 80.41 L453.05 82.02 L455.21 83.74 L457.35 85.58 L459.46 87.54 L461.54 89.60 L463.57 91.75 L465.56 94.01 L467.50 96.35 L469.38 98.77 L471.20 101.27 L472.95 103.84 L474.63 106.47 L476.23 109.15 L477.75 111.88 L479.19 114.65 L480.54 117.45 L481.79 120.27 L482.95 123.11 L484.01 125.96 L484.97 128.81 L485.82 131.65 L486.56 134.48 L487.20 137.29 L487.72 140.06 L488.14 142.80 L488.44 145.49 L488.62 148.12 L488.69 150.70 L488.64 153.21 L488.48 155.65 L488.21 158.01 L487.82 160.27 L487.32 162.45 L486.70 164.53 L485.98 166.50 L485.15 168.36 L484.21 170.10 L483.18 171.73 L482.04 173.23 L480.80 174.60 L479.47 175.84 L478.05 176.94 L476.55 177.90 L436.55 201.40 L413.92 183.13 L412.38 182.02 L410.85 180.87 L409.33 179.67 L407.83 178.43 L406.35 177.14 L404.88 175.81 L403.43 174.43 L402.00 173.02 L400.60 171.56 L399.21 170.07 L397.86 168.55 L396.53 166.99 L395.23 165.40 L393.97 163.79 L392.73 162.14 L391.53 160.47 L390.37 158.78 L389.24 157.07 L388.15 155.34 L387.10 153.59 L386.10 151.82 L385.13 150.05 L384.21 148.26 L383.33 146.47 L382.49 144.67 L381.71 142.86 L380.97 141.06 L380.28 139.25 L379.64 137.45 L379.05 135.66 L378.51 133.87 L378.02 132.09 L377.58 130.32 L377.19 128.56 L376.86 126.82 L376.59 125.10 L376.36 123.40 L376.19 121.72 L376.07 120.07 L376.01 118.44 L376.00 116.84 L376.05 115.27 L376.15 113.73 L376.31 112.23 L376.52 110.76 L376.78 109.33 L377.10 107.94 L377.47 106.59 L377.89 105.28 L378.37 104.02 L378.90 102.80 L379.47 101.63 L380.10 100.51 L380.78 99.44 L381.50 98.42 L382.28 97.45 L383.10 96.54 L383.96 95.68 L384.88 94.88 L385.83 94.13 Z" fill="#fff" stroke="#1a1617" stroke-width="2.5" stroke-linecap="round" stroke-linejoin="round" />
<path d="M455.57 189.07 L452.46 190.96 L448.99 192.30 L445.22 193.09 L441.18 193.32 L436.92 192.98 L432.47 192.08 L427.90 190.62 L423.25 188.63 L418.57 186.12 L413.92 183.13 L409.33 179.67 L404.88 175.81 L400.60 171.56 L396.53 166.99 L392.73 162.14 L389.24 157.07 L386.10 151.82 L383.33 146.47 L380.97 141.06 L379.05 135.66 L377.58 130.32 L376.59 125.10 L376.07 120.07 L376.05 115.27 L376.52 110.76 L377.47 106.59 L378.90 102.80 L380.78 99.44 L383.10 96.54 L385.83 94.13 L388.94 92.24 L392.41 90.90 L396.18 90.11 L400.22 89.88 L404.48 90.22 L408.93 91.12 L413.50 92.58 L418.15 94.57 L422.83 97.08 L427.48 100.07 L432.07 103.53 L436.52 107.39 L440.80 111.64 L444.87 116.21 L448.67 121.06 L452.16 126.13 L455.30 131.38 L458.07 136.73 L460.43 142.14 L462.35 147.54 L463.82 152.88 L464.81 158.10 L465.33 163.13 L465.35 167.93 L464.88 172.44 L463.93 176.61 L462.50 180.40 L460.62 183.76 L458.30 186.66 L455.57 189.07 Z" fill="#fff" stroke="#1a1617" stroke-width="2.5" stroke-linecap="round" stroke-linejoin="round" />
<path d="M600.35 179.00 L601.94 178.18 L603.60 177.50 L605.34 176.97 L607.14 176.58 L609.01 176.35 L610.94 176.26 L612.92 176.32 L614.94 176.53 L617.01 176.89 L619.11 177.40 L621.25 178.05 L623.41 178.85 L625.59 179.79 L627.78 180.87 L629.97 182.09 L632.17 183.43 L634.37 184.91 L636.55 186.52 L638.71 188.24 L640.85 190.08 L642.96 192.04 L645.04 194.10 L647.07 196.25 L649.06 198.51 L651.00 200.85 L652.88 203.27 L654.70 205.77 L656.45 208.34 L658.13 210.97 L659.73 213.65 L661.25 216.38 L662.69 219.15 L664.04 221.95 L665.29 224.77 L666.45 227.61 L667.51 230.46 L668.47 233.31 L669.32 236.15 L670.06 238.98 L670.70 241.79 L671.22 244.56 L671.64 247.30 L671.94 249.99 L672.12 252.62 L672.19 255.20 L672.14 257.71 L671.98 260.15 L671.71 262.51 L671.32 264.77 L670.82 266.95 L670.20 269.03 L669.48 271.00 L668.65 272.86 L667.71 274.60 L666.68 276.23 L665.54 277.73 L664.30 279.10 L662.97 280.34 L661.55 281.44 L660.05 282.40 L620.05 305.90 L597.42 287.63 L595.88 286.52 L594.35 285.37 L592.83 284.17 L591.33 282.93 L589.85 281.64 L588.38 280.31 L586.93 278.93 L585.50 277.52 L584.10 276.06 L582.71 274.57 L581.36 273.05 L580.03 271.49 L578.73 269.90 L577.47 268.29 L576.23 266.64 L575.03 264.97 L573.87 263.28 L572.74 261.57 L571.65 259.84 L570.60 258.09 L569.60 256.32 L568.63 254.55 L567.71 252.76 L566.83 250.97 L565.99 249.17 L565.21 247.36 L564.47 245.56 L563.78 243.75 L563.14 241.95 L562.55 240.16 L562.01 238.37 L561.52 236.59 L561.08 234.82 L560.69 233.06 L560.36 231.32 L560.09 229.60 L559.86 227.90 L559.69 226.22 L559.57 224.57 L559.51 222.94 L559.50 221.34 L559.55 219.77 L559.65 218.23 L559.81 216.73 L560.02 215.26 L560.28 213.83 L560.60 212.44 L560.97 211.09 L561.39 209.78 L561.87 208.52 L562.40 207.30 L562.97 206.13 L563.60 205.01 L564.28 203.94 L565.00 202.92 L565.78 201.95 L566.60 201.04 L567.46 200.18 L568.38 199.38 L569.33 198.63 Z" fill="#fff" stroke="#1a1617" stroke-width="2.5" stroke-linecap="round" stroke-linejoin="round" />
<path d="M639.07 293.57 L635.96 295.46 L632.49 296.80 L628.72 297.59 L624.68 297.82 L620.42 297.48 L615.97 296.58 L611.40 295.12 L606.75 293.13 L602.07 290.62 L597.42 287.63 L592.83 284.17 L588.38 280.31 L584.10 276.06 L580.03 271.49 L576.23 266.64 L572.74 261.57 L569.60 256.32 L566.83 250.97 L564.47 245.56 L562.55 240.16 L561.08 234.82 L560.09 229.60 L559.57 224.57 L559.55 219.77 L560.02 215.26 L560.97 211.09 L562.40 207.30 L564.28 203.94 L566.60 201.04 L569.33 198.63 L572.44 196.74 L575.91 195.40 L579.68 194.61 L583.72 194.38 L587.98 194.72 L592.43 195.62 L597.00 197.08 L601.65 199.07 L606.33 201.58 L610.98 204.57 L615.57 208.03 L620.02 211.89 L624.30 216.14 L628.37 220.71 L632.17 225.56 L635.66 230.63 L638.80 235.88 L641.57 241.23 L643.93 246.64 L645.85 252.04 L647.32 257.38 L648.31 262.60 L648.83 267.63 L648.85 272.43 L648.38 276.94 L647.43 281.11 L646.00 284.90 L644.12 288.26 L641.80 291.16 L639.07 293.57 Z" fill="#fff" stroke="#1a1617" stroke-width="2.5" stroke-linecap="round" stroke-linejoin="round" />
<path d="M400.38 121.98 L401.15 121.58 L401.96 121.24 L402.81 120.97 L403.69 120.77 L404.59 120.64 L405.53 120.58 L406.49 120.59 L407.46 120.67 L408.46 120.82 L409.48 121.03 L410.50 121.32 L411.54 121.68 L412.59 122.10 L413.63 122.59 L414.69 123.14 L415.74 123.75 L416.78 124.43 L417.82 125.16 L418.85 125.96 L419.87 126.80 L420.87 127.71 L421.86 128.66 L422.82 129.66 L423.76 130.70 L424.67 131.79 L425.56 132.91 L426.41 134.07 L427.24 135.27 L428.02 136.49 L428.77 137.75 L429.48 139.02 L430.15 140.31 L430.77 141.62 L431.35 142.94 L431.88 144.27 L432.37 145.61 L432.80 146.94 L433.18 148.28 L433.52 149.61 L433.79 150.92 L434.02 152.23 L434.19 153.52 L434.31 154.79 L434.37 156.03 L434.38 157.25 L434.33 158.43 L434.23 159.59 L434.07 160.70 L433.86 161.78 L433.60 162.81 L433.28 163.80 L432.91 164.74 L432.49 165.62 L432.02 166.46 L431.50 167.23 L430.93 167.95 L430.32 168.61 L429.66 169.21 L428.96 169.75 L428.23 170.22 L376.73 200.42 L348.88 152.18 Z" fill="#fff" stroke="#1a1617" stroke-width="2.5" stroke-linecap="round" stroke-linejoin="round" />
<path d="M378.88 134.58 L379.62 134.19 L380.39 133.87 L381.20 133.60 L382.03 133.40 L382.89 133.26 L383.78 133.19 L384.69 133.18 L385.61 133.23 L386.56 133.35 L387.52 133.53 L388.50 133.77 L389.49 134.08 L390.48 134.45 L391.48 134.87 L392.49 135.36 L393.49 135.91 L394.49 136.51 L395.49 137.17 L396.48 137.88 L397.47 138.65 L398.44 139.46 L399.39 140.33 L400.33 141.24 L401.26 142.19 L402.16 143.18 L403.03 144.22 L403.89 145.28 L404.71 146.39 L405.50 147.52 L406.26 148.68 L406.99 149.87 L407.69 151.08 L408.34 152.31 L408.96 153.55 L409.53 154.81 L410.07 156.07 L410.56 157.35 L411.01 158.62 L411.41 159.90 L411.76 161.17 L412.07 162.44 L412.33 163.70 L412.54 164.94 L412.70 166.17 L412.81 167.39 L412.87 168.57 L412.88 169.74 L412.84 170.88 L412.75 171.98 L412.61 173.06 L412.42 174.09 L412.18 175.09 L411.90 176.05 L411.56 176.97 L411.18 177.83 L410.75 178.66 L410.28 179.43 L409.76 180.15 L409.20 180.81 L408.60 181.42 " fill="none" stroke="#1a1617" stroke-width="2.5" stroke-linecap="round" stroke-linejoin="round" />
<path d="M389.69 134.15 L390.48 134.44 L391.26 134.77 L392.05 135.14 L392.84 135.55 L393.62 135.99 L394.41 136.46 L395.20 136.97 L395.98 137.51 L396.75 138.09 L397.52 138.69 L398.29 139.33 L399.04 140.00 L399.78 140.70 L400.52 141.42 L401.24 142.17 L401.95 142.95 L402.64 143.75 L403.32 144.57 L403.99 145.42 L404.63 146.28 L405.26 147.17 L405.87 148.07 L406.46 148.99 L407.03 149.93 L407.57 150.87 L408.09 151.83 L408.59 152.80 L409.07 153.78 L409.52 154.77 L409.94 155.76 L410.34 156.76 L410.71 157.76 L411.05 158.76 L411.37 159.77 L411.65 160.77 L411.91 161.76 L412.14 162.76 L412.34 163.74 L412.50 164.72 L412.64 165.69 L412.75 166.65 L412.82 167.59 L412.87 168.53 L412.88 169.44 L412.87 170.34 L412.82 171.23 L412.74 172.09 L412.63 172.93 L412.49 173.75 L412.32 174.55 L412.12 175.33 L411.89 176.07 L411.63 176.79 L411.34 177.49 L411.02 178.15 L410.68 178.78 L410.30 179.39 L409.90 179.96 L409.48 180.50 L409.03 181.00 " fill="none" stroke="#1a1617" stroke-width="3.3" stroke-linecap="round" stroke-linejoin="round" />
<path d="M388.73 131.92 L398.59 137.16 L407.27 146.75 L413.03 158.77 L414.70 170.77 L411.93 180.33 " fill="none" stroke="#1a1617" stroke-width="2.2" stroke-linecap="round" stroke-linejoin="round" stroke-linejoin="miter"/>
<path d="M583.88 226.48 L584.65 226.08 L585.46 225.74 L586.31 225.47 L587.19 225.27 L588.09 225.14 L589.03 225.08 L589.99 225.09 L590.96 225.17 L591.96 225.32 L592.98 225.53 L594.00 225.82 L595.04 226.18 L596.09 226.60 L597.13 227.09 L598.19 227.64 L599.24 228.25 L600.28 228.93 L601.32 229.66 L602.35 230.46 L603.37 231.30 L604.37 232.21 L605.36 233.16 L606.32 234.16 L607.26 235.20 L608.17 236.29 L609.06 237.41 L609.91 238.57 L610.74 239.77 L611.52 240.99 L612.27 242.25 L612.98 243.52 L613.65 244.81 L614.27 246.12 L614.85 247.44 L615.38 248.77 L615.87 250.11 L616.30 251.44 L616.68 252.78 L617.02 254.11 L617.29 255.42 L617.52 256.73 L617.69 258.02 L617.81 259.29 L617.87 260.53 L617.88 261.75 L617.83 262.93 L617.73 264.09 L617.57 265.20 L617.36 266.28 L617.10 267.31 L616.78 268.30 L616.41 269.24 L615.99 270.12 L615.52 270.96 L615.00 271.73 L614.43 272.45 L613.82 273.11 L613.16 273.71 L612.46 274.25 L611.72 274.72 L560.22 304.92 L532.38 256.68 Z" fill="#fff" stroke="#1a1617" stroke-width="2.5" stroke-linecap="round" stroke-linejoin="round" />
<path d="M562.38 239.08 L563.12 238.69 L563.89 238.37 L564.70 238.10 L565.53 237.90 L566.39 237.76 L567.28 237.69 L568.19 237.68 L569.11 237.73 L570.06 237.85 L571.02 238.03 L572.00 238.27 L572.99 238.58 L573.98 238.95 L574.98 239.37 L575.99 239.86 L576.99 240.41 L577.99 241.01 L578.99 241.67 L579.98 242.38 L580.97 243.15 L581.94 243.96 L582.89 244.83 L583.83 245.74 L584.76 246.69 L585.66 247.68 L586.53 248.72 L587.39 249.78 L588.21 250.89 L589.00 252.02 L589.76 253.18 L590.49 254.37 L591.19 255.58 L591.84 256.81 L592.46 258.05 L593.03 259.31 L593.57 260.57 L594.06 261.85 L594.51 263.12 L594.91 264.40 L595.26 265.67 L595.57 266.94 L595.83 268.20 L596.04 269.44 L596.20 270.67 L596.31 271.89 L596.37 273.07 L596.38 274.24 L596.34 275.38 L596.25 276.48 L596.11 277.56 L595.92 278.59 L595.68 279.59 L595.40 280.55 L595.06 281.47 L594.68 282.33 L594.25 283.16 L593.78 283.93 L593.26 284.65 L592.70 285.31 L592.10 285.92 " fill="none" stroke="#1a1617" stroke-width="2.5" stroke-linecap="round" stroke-linejoin="round" />
<path d="M573.19 238.65 L573.98 238.94 L574.76 239.27 L575.55 239.64 L576.34 240.05 L577.12 240.49 L577.91 240.96 L578.70 241.47 L579.48 242.01 L580.25 242.59 L581.02 243.19 L581.79 243.83 L582.54 244.50 L583.28 245.20 L584.02 245.92 L584.74 246.67 L585.45 247.45 L586.14 248.25 L586.82 249.07 L587.49 249.92 L588.13 250.78 L588.76 251.67 L589.37 252.57 L589.96 253.49 L590.53 254.43 L591.07 255.37 L591.59 256.33 L592.09 257.30 L592.57 258.28 L593.02 259.27 L593.44 260.26 L593.84 261.26 L594.21 262.26 L594.55 263.26 L594.87 264.27 L595.15 265.27 L595.41 266.26 L595.64 267.26 L595.84 268.24 L596.00 269.22 L596.14 270.19 L596.25 271.15 L596.32 272.09 L596.37 273.03 L596.38 273.94 L596.37 274.84 L596.32 275.73 L596.24 276.59 L596.13 277.43 L595.99 278.25 L595.82 279.05 L595.62 279.83 L595.39 280.57 L595.13 281.29 L594.84 281.99 L594.52 282.65 L594.18 283.28 L593.80 283.89 L593.40 284.46 L592.98 285.00 L592.53 285.50 " fill="none" stroke="#1a1617" stroke-width="3.3" stroke-linecap="round" stroke-linejoin="round" />
<path d="M572.23 236.42 L582.09 241.66 L590.77 251.25 L596.53 263.27 L598.20 275.27 L595.43 284.83 " fill="none" stroke="#1a1617" stroke-width="2.2" stroke-linecap="round" stroke-linejoin="round" stroke-linejoin="miter"/>
<path d="M417.4 250 L417.4 292.6 L440 320 L423.3 345.9 C428 352 437 358.3 447.9 358.5 C455 358.4 460.5 355 464.3 350.3 C470 346.5 474.5 342 476.9 335 L476.9 280 Z" fill="#fff" stroke="none" stroke-width="0" stroke-linecap="round" stroke-linejoin="round" />
<path d="M417.4 250 L417.4 292.6" fill="none" stroke="#1a1617" stroke-width="2.5" stroke-linecap="round" stroke-linejoin="round" />
<path d="M476.9 280 L476.9 335.5 C476.9 341.5 471 346 463.6 350.2" fill="none" stroke="#1a1617" stroke-width="2.5" stroke-linecap="round" stroke-linejoin="round" />
<path d="M423.3 345.9 C428 352.5 437 358.3 447.9 358.5 C455.5 358.4 460.8 355 464.3 350.3" fill="none" stroke="#1a1617" stroke-width="2.5" stroke-linecap="round" stroke-linejoin="round" />
<path d="M426.5 348.4 C433 352 440 353.4 447.9 353.4 C454 353.3 459 352.2 463.2 350.3" fill="none" stroke="#1a1617" stroke-width="1.8" stroke-linecap="round" stroke-linejoin="round" />
<path d="M417.4 255 C418.5 262 423 269.5 433 273.5 C439 275.6 446 276 453 275.5" fill="none" stroke="#1a1617" stroke-width="2.5" stroke-linecap="round" stroke-linejoin="round" />
<path d="M417.40 292.60 L275.80 375.87 L275.80 375.87 L275.15 376.29 L274.53 376.76 L273.95 377.29 L273.40 377.87 L272.90 378.50 L272.44 379.19 L272.02 379.92 L271.64 380.71 L271.31 381.53 L271.03 382.40 L270.79 383.31 L270.60 384.25 L270.45 385.24 L270.36 386.25 L270.31 387.29 L270.31 388.36 L270.36 389.45 L270.46 390.57 L270.61 391.70 L270.80 392.84 L271.04 394.00 L271.33 395.17 L271.66 396.34 L272.04 397.51 L272.46 398.68 L272.93 399.84 L273.43 401.00 L273.98 402.15 L274.56 403.28 L275.18 404.40 L275.84 405.50 L276.53 406.57 L277.25 407.61 L278.00 408.63 L278.78 409.62 L279.58 410.57 L280.41 411.48 L281.25 412.35 L282.12 413.19 L283.00 413.97 L283.90 414.71 L284.80 415.41 L285.72 416.05 L286.64 416.64 L287.56 417.17 L288.49 417.65 L289.42 418.08 L290.34 418.44 L291.25 418.75 L292.16 419.00 L293.05 419.19 L293.93 419.31 L294.80 419.38 L295.64 419.38 L296.47 419.33 L297.27 419.21 L298.04 419.03 L298.79 418.79 L299.51 418.49 L300.20 418.13 L449.20 330.10  L449.2 330.1 C454.5 326 455 319 451.5 314 C446 306.5 431 298.5 417.4 292.6 Z" fill="#fff" stroke="#1a1617" stroke-width="2.5" stroke-linecap="round" stroke-linejoin="round" />
<path d="M300.20 418.13 L298.79 418.79 L297.27 419.21 L295.64 419.38 L293.93 419.31 L292.16 419.00 L290.34 418.44 L288.49 417.65 L286.64 416.64 L284.80 415.41 L283.00 413.97 L281.25 412.35 L279.58 410.57 L278.00 408.63 L276.53 406.57 L275.18 404.40 L273.98 402.15 L272.93 399.84 L272.04 397.51 L271.33 395.17 L270.80 392.84 L270.46 390.57 L270.31 388.36 L270.36 386.25 L270.60 384.25 L271.03 382.40 L271.64 380.71 L272.44 379.19 L273.40 377.87 L274.53 376.76 L275.80 375.87 L277.21 375.21 L278.73 374.79 L280.36 374.62 L282.07 374.69 L283.84 375.00 L285.66 375.56 L287.51 376.35 L289.36 377.36 L291.20 378.59 L293.00 380.03 L294.75 381.65 L296.42 383.43 L298.00 385.37 L299.47 387.43 L300.82 389.60 L302.02 391.85 L303.07 394.16 L303.96 396.49 L304.67 398.83 L305.20 401.16 L305.54 403.43 L305.69 405.64 L305.64 407.75 L305.40 409.75 L304.97 411.60 L304.36 413.29 L303.56 414.81 L302.60 416.13 L301.47 417.24 L300.20 418.13 Z" fill="#fff" stroke="#1a1617" stroke-width="2.5" stroke-linecap="round" stroke-linejoin="round" />
<path d="M328.8 401.2 C330.5 406 329.5 410.5 325 413.5 C319.5 416.8 311 418.5 303.5 418.2" fill="none" stroke="#1a1617" stroke-width="2.5" stroke-linecap="round" stroke-linejoin="round" />
<path d="M293.10 100.83 L292.10 100.31 L291.06 99.88 L289.98 99.54 L288.85 99.28 L287.69 99.11 L286.49 99.04 L285.27 99.05 L284.01 99.15 L282.73 99.34 L281.43 99.62 L280.12 99.99 L278.79 100.44 L277.45 100.98 L276.10 101.61 L274.75 102.32 L273.41 103.10 L272.07 103.97 L270.73 104.91 L269.41 105.93 L268.11 107.02 L266.83 108.17 L265.56 109.39 L264.33 110.67 L263.12 112.01 L261.95 113.40 L260.82 114.85 L259.72 116.34 L258.67 117.87 L257.66 119.44 L256.70 121.04 L255.79 122.67 L254.94 124.33 L254.14 126.01 L253.39 127.70 L252.71 129.41 L252.09 131.12 L251.53 132.83 L251.04 134.54 L250.62 136.24 L250.26 137.93 L249.97 139.61 L249.75 141.26 L249.60 142.88 L249.52 144.48 L249.51 146.04 L249.57 147.56 L249.70 149.04 L249.91 150.47 L250.18 151.85 L250.52 153.17 L250.92 154.44 L251.40 155.64 L251.94 156.78 L252.54 157.84 L253.21 158.84 L253.93 159.76 L254.72 160.61 L255.56 161.38 L256.45 162.06 L257.40 162.67 L450.00 274.42 L593.85 353.87 L594.85 354.39 L595.89 354.82 L596.97 355.16 L598.10 355.42 L599.26 355.59 L600.46 355.66 L601.68 355.65 L602.94 355.55 L604.22 355.36 L605.52 355.08 L606.83 354.71 L608.16 354.26 L609.50 353.72 L610.85 353.09 L612.20 352.38 L613.54 351.60 L614.88 350.73 L616.22 349.79 L617.54 348.77 L618.84 347.68 L620.12 346.53 L621.39 345.31 L622.62 344.03 L623.83 342.69 L625.00 341.30 L626.13 339.85 L627.23 338.36 L628.28 336.83 L629.29 335.26 L630.25 333.66 L631.16 332.03 L632.01 330.37 L632.81 328.69 L633.56 327.00 L634.24 325.29 L634.86 323.58 L635.42 321.87 L635.91 320.16 L636.33 318.46 L636.69 316.77 L636.98 315.09 L637.20 313.44 L637.35 311.82 L637.43 310.22 L637.44 308.66 L637.38 307.14 L637.25 305.66 L637.04 304.23 L636.77 302.85 L636.43 301.53 L636.03 300.26 L635.55 299.06 L635.01 297.92 L634.41 296.86 L633.74 295.86 L633.02 294.94 L632.23 294.09 L631.39 293.32 L630.50 292.64 L629.55 292.03 L450.00 188.50 Z" fill="#fff" stroke="#1a1617" stroke-width="2.5" stroke-linecap="round" stroke-linejoin="round" />
<path d="M593.85 353.87 L592.01 352.58 L590.38 350.96 L588.99 349.04 L587.85 346.84 L586.97 344.37 L586.36 341.67 L586.02 338.76 L585.97 335.68 L586.20 332.46 L586.71 329.13 L587.49 325.74 L588.54 322.32 L589.84 318.90 L591.39 315.53 L593.15 312.24 L595.12 309.07 L597.27 306.05 L599.57 303.21 L602.01 300.59 L604.56 298.22 L607.18 296.11 L609.86 294.30 L612.55 292.81 L615.24 291.64 L617.88 290.82 L620.46 290.35 L622.94 290.24 L625.30 290.48 L627.51 291.08 L629.55 292.03 L631.39 293.32 L633.02 294.94 L634.41 296.86 L635.55 299.06 L636.43 301.53 L637.04 304.23 L637.38 307.14 L637.43 310.22 L637.20 313.44 L636.69 316.77 L635.91 320.16 L634.86 323.58 L633.56 327.00 L632.01 330.37 L630.25 333.66 L628.28 336.83 L626.13 339.85 L623.83 342.69 L621.39 345.31 L618.84 347.68 L616.22 349.79 L613.54 351.60 L610.85 353.09 L608.16 354.26 L605.52 355.08 L602.94 355.55 L600.46 355.66 L598.10 355.42 L595.89 354.82 L593.85 353.87 Z" fill="#fff" stroke="#1a1617" stroke-width="2.5" stroke-linecap="round" stroke-linejoin="round" />
<path d="M348.23 131.84 L347.22 131.38 L346.16 131.01 L345.07 130.72 L343.94 130.52 L342.77 130.41 L341.57 130.38 L340.35 130.44 L339.10 130.58 L337.83 130.81 L336.54 131.12 L335.24 131.52 L333.92 132.01 L332.60 132.57 L331.27 133.22 L329.94 133.94 L328.61 134.75 L327.29 135.62 L325.98 136.57 L324.68 137.59 L323.40 138.68 L322.14 139.83 L320.90 141.05 L319.69 142.32 L318.50 143.65 L317.35 145.03 L316.24 146.46 L315.16 147.93 L314.12 149.44 L313.13 150.99 L312.19 152.57 L311.29 154.18 L310.44 155.81 L309.65 157.47 L308.92 159.14 L308.24 160.82 L307.62 162.50 L307.06 164.19 L306.57 165.88 L306.13 167.56 L305.77 169.23 L305.47 170.88 L305.23 172.52 L305.06 174.13 L304.96 175.71 L304.93 177.26 L304.97 178.77 L305.07 180.25 L305.25 181.67 L305.48 183.06 L305.79 184.38 L306.16 185.66 L306.60 186.87 L307.10 188.03 L307.66 189.12 L308.28 190.14 L308.97 191.09 L309.71 191.97 L310.50 192.78 L311.35 193.50 L312.25 194.15 " fill="none" stroke="#1a1617" stroke-width="3.1" stroke-linecap="round" stroke-linejoin="round" />
<path d="M573.05 260.00 L572.05 259.55 L571.01 259.18 L569.92 258.90 L568.80 258.70 L567.65 258.59 L566.46 258.56 L565.25 258.61 L564.01 258.76 L562.75 258.99 L561.48 259.30 L560.18 259.69 L558.88 260.17 L557.57 260.73 L556.26 261.37 L554.94 262.09 L553.63 262.88 L552.32 263.75 L551.02 264.69 L549.74 265.70 L548.47 266.78 L547.22 267.92 L545.99 269.13 L544.79 270.39 L543.62 271.70 L542.48 273.07 L541.37 274.48 L540.30 275.94 L539.28 277.44 L538.30 278.97 L537.36 280.54 L536.47 282.13 L535.63 283.75 L534.85 285.38 L534.12 287.04 L533.45 288.70 L532.84 290.37 L532.28 292.04 L531.79 293.71 L531.37 295.38 L531.00 297.03 L530.70 298.67 L530.47 300.29 L530.31 301.88 L530.21 303.45 L530.18 304.98 L530.21 306.48 L530.32 307.94 L530.49 309.36 L530.72 310.72 L531.03 312.04 L531.39 313.30 L531.83 314.51 L532.32 315.65 L532.88 316.73 L533.49 317.74 L534.17 318.68 L534.90 319.55 L535.69 320.35 L536.53 321.07 L537.42 321.71 " fill="none" stroke="#1a1617" stroke-width="3.8" stroke-linecap="round" stroke-linejoin="round" />
<path d="M271 118.9 C274 118.8 276.5 119.6 278.4 120.9 L305.7 143.6 C307.6 145.2 308.6 146.6 308 148.2 C307.3 150.6 306 151.9 303.8 151.5 L267 138.5 C264.5 137.6 263.2 136.2 262.5 134.5 C261.4 132.5 261 130.8 261.4 128.4 C262.3 122.4 266 119 271 118.9 Z" fill="none" stroke="#1a1617" stroke-width="2.3" stroke-linecap="round" stroke-linejoin="round" />
<path d="M276.5 120 L292.5 133" fill="none" stroke="#1a1617" stroke-width="3.1" stroke-linecap="round" stroke-linejoin="round" />
<path d="M265 136.9 L291.5 146.6" fill="none" stroke="#1a1617" stroke-width="3.1" stroke-linecap="round" stroke-linejoin="round" />
<path d="M547 281.4 C547.6 281.4 548 281.5 548.8 281.8 L583.4 293.9 C587.5 295.4 589.4 297.6 589.1 301.2 C588.8 304.5 587.6 307.4 585.7 309.8 C583.5 312.8 580.8 315.2 577.7 315.5 C576 315.6 574.6 314.9 573.2 313.75 L543.9 288.3 C542.5 287 542.2 285.2 543.1 283.3 C544 281.8 545.4 281.4 547 281.4 Z" fill="none" stroke="#1a1617" stroke-width="2.5" stroke-linecap="round" stroke-linejoin="round" />
<path d="M605.20 331.68 L604.66 331.30 L604.18 330.82 L603.77 330.26 L603.44 329.61 L603.18 328.88 L603.01 328.08 L602.91 327.21 L602.90 326.30 L602.97 325.35 L603.12 324.36 L603.36 323.36 L603.67 322.34 L604.06 321.33 L604.52 320.33 L605.04 319.35 L605.63 318.41 L606.27 317.51 L606.95 316.67 L607.67 315.89 L608.42 315.18 L609.20 314.56 L609.99 314.02 L610.79 313.57 L611.58 313.22 L612.36 312.98 L613.12 312.83 L613.85 312.80 L614.55 312.87 L615.20 313.04 L615.80 313.32 L616.34 313.70 L616.82 314.18 L617.23 314.74 L617.56 315.39 L617.82 316.12 L617.99 316.92 L618.09 317.79 L618.10 318.70 L618.03 319.65 L617.88 320.64 L617.64 321.64 L617.33 322.66 L616.94 323.67 L616.48 324.67 L615.96 325.65 L615.37 326.59 L614.73 327.49 L614.05 328.33 L613.33 329.11 L612.58 329.82 L611.80 330.44 L611.01 330.98 L610.21 331.43 L609.42 331.78 L608.64 332.02 L607.88 332.17 L607.15 332.20 L606.45 332.13 L605.80 331.96 L605.20 331.68 Z" fill="none" stroke="#1a1617" stroke-width="2.5" stroke-linecap="round" stroke-linejoin="round" />
<line x1="613.00" y1="308.00" x2="613.00" y2="334.60" stroke="#1a1617" stroke-width="2.5" stroke-linecap="round"/>
<line x1="0.00" y1="287.50" x2="250.00" y2="140.50" stroke="#1a1617" stroke-width="2.35" stroke-linecap="round"/>
<line x1="12.20" y1="285.27" x2="337.80" y2="475.48" stroke="#1a1617" stroke-width="2.35" stroke-linecap="round"/>
<polygon points="8.75,283.25 21.48,283.27 15.02,294.32" fill="#1a1617"/>
<polygon points="341.25,477.50 328.52,477.48 334.98,466.43" fill="#1a1617"/>
<line x1="333.00" y1="485.20" x2="622.50" y2="316.50" stroke="#1a1617" stroke-width="2.35" stroke-linecap="round"/>
<line x1="317.25" y1="458.06" x2="444.00" y2="387.94" stroke="#1a1617" stroke-width="2.35" stroke-linecap="round"/>
<polygon points="313.75,460.00 320.28,449.07 326.47,460.27" fill="#1a1617"/>
<polygon points="447.50,386.00 440.97,396.93 434.78,385.73" fill="#1a1617"/>
<line x1="312.50" y1="419.50" x2="312.50" y2="461.00" stroke="#1a1617" stroke-width="2.35" stroke-linecap="round"/>
<line x1="448.50" y1="299.50" x2="448.50" y2="311.50" stroke="#1a1617" stroke-width="2.35" stroke-linecap="round"/>
<line x1="448.50" y1="322.90" x2="448.50" y2="335.30" stroke="#1a1617" stroke-width="2.35" stroke-linecap="round"/>
<line x1="448.50" y1="345.90" x2="448.50" y2="395.00" stroke="#1a1617" stroke-width="2.35" stroke-linecap="round"/>
<line x1="452.27" y1="382.59" x2="525.98" y2="342.66" stroke="#1a1617" stroke-width="2.35" stroke-linecap="round"/>
<polygon points="448.75,384.50 455.37,373.63 461.47,384.89" fill="#1a1617"/>
<polygon points="529.50,340.75 522.88,351.62 516.78,340.36" fill="#1a1617"/>
<line x1="530.00" y1="317.50" x2="530.00" y2="350.75" stroke="#1a1617" stroke-width="2.35" stroke-linecap="round"/>
<line x1="683.00" y1="390.07" x2="791.00" y2="330.68" stroke="#1a1617" stroke-width="2.35" stroke-linecap="round"/>
<polygon points="679.50,392.00 686.05,381.09 692.22,392.31" fill="#1a1617"/>
<polygon points="794.50,328.75 787.95,339.66 781.78,328.44" fill="#1a1617"/>
<line x1="587.20" y1="338.80" x2="688.10" y2="398.30" stroke="#1a1617" stroke-width="2.35" stroke-linecap="round"/>
<line x1="671.25" y1="252.50" x2="801.00" y2="328.10" stroke="#1a1617" stroke-width="2.35" stroke-linecap="round"/>
<line x1="537.20" y1="62.02" x2="711.55" y2="164.23" stroke="#1a1617" stroke-width="2.35" stroke-linecap="round"/>
<polygon points="533.75,60.00 546.48,60.04 540.00,71.08" fill="#1a1617"/>
<polygon points="715.00,166.25 702.27,166.21 708.75,155.17" fill="#1a1617"/>
<line x1="488.75" y1="82.50" x2="540.00" y2="53.75" stroke="#1a1617" stroke-width="2.35" stroke-linecap="round"/>
<line x1="675.00" y1="190.00" x2="719.50" y2="165.00" stroke="#1a1617" stroke-width="2.35" stroke-linecap="round"/>
<line x1="379.74" y1="6.95" x2="460.26" y2="51.80" stroke="#1a1617" stroke-width="2.35" stroke-linecap="round"/>
<polygon points="376.25,5.00 388.97,4.76 382.74,15.94" fill="#1a1617"/>
<polygon points="463.75,53.75 451.03,53.99 457.26,42.81" fill="#1a1617"/>
<line x1="376.50" y1="-2.00" x2="376.50" y2="120.00" stroke="#1a1617" stroke-width="2.35" stroke-linecap="round"/>
<line x1="464.20" y1="48.75" x2="464.20" y2="171.50" stroke="#1a1617" stroke-width="2.35" stroke-linecap="round"/>
<line x1="323.00" y1="107.50" x2="404.50" y2="60.00" stroke="#1a1617" stroke-width="2.35" stroke-linecap="round"/>
<polygon points="350.00,92.50 343.49,103.44 337.28,92.25" fill="#1a1617"/>
<polygon points="389.60,69.20 395.87,58.13 402.33,69.18" fill="#1a1617"/>
<line x1="340.00" y1="86.00" x2="376.75" y2="108.00" stroke="#1a1617" stroke-width="2.35" stroke-linecap="round"/>
<line x1="381.00" y1="66.00" x2="406.00" y2="81.00" stroke="#1a1617" stroke-width="2.35" stroke-linecap="round"/>
<line x1="338.75" y1="176.25" x2="338.75" y2="294.50" stroke="#1a1617" stroke-width="2.35" stroke-linecap="round"/>
<polygon points="338.75,202.50 332.35,191.50 345.15,191.50" fill="#1a1617"/>
<polygon points="338.75,249.25 345.15,260.25 332.35,260.25" fill="#1a1617"/>
<line x1="333.75" y1="207.00" x2="388.25" y2="175.00" stroke="#1a1617" stroke-width="2.35" stroke-linecap="round"/>
<line x1="333.75" y1="251.00" x2="370.00" y2="232.00" stroke="#1a1617" stroke-width="2.35" stroke-linecap="round"/>
<line x1="532.50" y1="158.75" x2="532.50" y2="233.75" stroke="#1a1617" stroke-width="2.35" stroke-linecap="round"/>
<line x1="489.00" y1="152.50" x2="542.50" y2="183.75" stroke="#1a1617" stroke-width="2.35" stroke-linecap="round"/>
<path d="M492.51 120.66 L502.30 143.00 L560.20 143.90" fill="none" stroke="#1a1617" stroke-width="2.35" stroke-linecap="round" stroke-linejoin="round" stroke-linejoin="miter"/>
<polygon points="490.90,117.00 501.51,125.01 489.61,130.23" fill="#1a1617"/>
<path d="M679.28 225.93 L689.80 248.70 L747.50 249.60" fill="none" stroke="#1a1617" stroke-width="2.35" stroke-linecap="round" stroke-linejoin="round" stroke-linejoin="miter"/>
<polygon points="677.60,222.30 688.37,230.10 676.57,235.56" fill="#1a1617"/>
<path d="M620.07 266.29 L663.90 329.80 L714.50 330.70" fill="none" stroke="#1a1617" stroke-width="2.35" stroke-linecap="round" stroke-linejoin="round" stroke-linejoin="miter"/>
<polygon points="617.80,263.00 629.74,268.86 619.04,276.24" fill="#1a1617"/>
<text x="520.60" y="138.75" transform="rotate(0 520.60 138.75)" font-size="16.4" text-anchor="start" letter-spacing="0.1">G1/2</text>
<text x="708.50" y="244.50" transform="rotate(0 708.50 244.50)" font-size="16.4" text-anchor="start" letter-spacing="0.1">G1/2</text>
<text x="665.20" y="324.50" transform="rotate(0 665.20 324.50)" font-size="16.4" text-anchor="start" letter-spacing="0.1">G3/4</text>
<text x="424.50" y="28.70" transform="rotate(29 424.50 28.70)" font-size="16.4" text-anchor="middle" >70</text>
<text x="325.75" y="100.00" transform="rotate(-30 325.75 100.00)" font-size="16.4" text-anchor="middle" >25</text>
<text x="619.80" y="103.60" transform="rotate(29.3 619.80 103.60)" font-size="16.4" text-anchor="middle" >150 ±16</text>
<text x="187.80" y="379.60" transform="rotate(29 187.80 379.60)" font-size="16.4" text-anchor="middle" >284</text>
<text x="381.00" y="418.20" transform="rotate(-29 381.00 418.20)" font-size="16.4" text-anchor="middle" >117</text>
<text x="484.80" y="359.30" transform="rotate(-28.4 484.80 359.30)" font-size="16.4" text-anchor="middle" >75</text>
<text x="735.40" y="356.10" transform="rotate(-29.7 735.40 356.10)" font-size="16.4" text-anchor="middle" >102</text>
<text x="342.00" y="281.20" transform="rotate(90 342.00 281.20)" font-size="16.4" text-anchor="middle" >Ø44</text>
</svg>
</body></html>
